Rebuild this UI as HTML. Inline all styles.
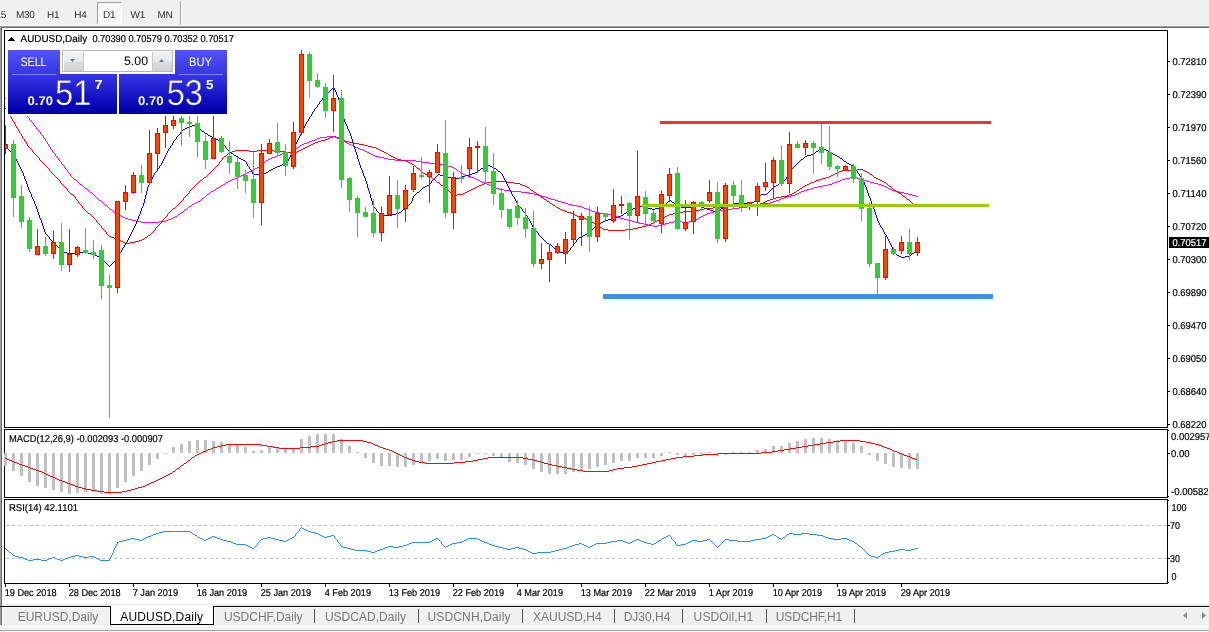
<!DOCTYPE html>
<html lang="en"><head><meta charset="utf-8"><title>AUDUSD,Daily</title>
<style>
html,body{margin:0;padding:0;}
body{width:1209px;height:632px;overflow:hidden;background:#f0f0f0;font-family:"Liberation Sans", sans-serif;position:relative;}
.abs{position:absolute;}
#toolbar{left:0;top:0;width:1209px;height:26px;background:#f0f0f0;}
.tf{position:absolute;top:10px;font-size:10px;line-height:11px;color:#2b2b2b;white-space:nowrap;text-rendering:geometricPrecision;letter-spacing:-0.3px;}
#d1{left:97px;top:2px;width:23px;height:20px;background:#f8f8f8;border:1px solid #a0a0a0;border-right-color:#fff;border-bottom-color:#fff;}
#tabs{left:0;top:604px;width:1209px;height:28px;background:#f0f0f0;}
.tab{position:absolute;top:6px;font-size:12px;line-height:14px;color:#787878;white-space:nowrap;}
.tab.on{color:#000;}
.sep{position:absolute;top:5px;width:1px;height:14px;background:#5a5a5a;}
#oc{left:6px;top:50px;width:223px;height:66px;background:#fff;}
#oc svg{left:2px;}
.btn{position:absolute;color:#fff;font-size:12px;line-height:14px;white-space:nowrap;}
svg{position:absolute;left:0;top:0;}
svg text{font-family:"Liberation Sans", sans-serif;text-rendering:geometricPrecision;}

</style></head><body>
<div id="toolbar" class="abs">
<div id="d1" class="abs"></div>
<span class="tf" style="left:-12.5px">M15</span>
<span class="tf" style="left:16px">M30</span>
<span class="tf" style="left:47px">H1</span>
<span class="tf" style="left:74.3px">H4</span>
<span class="tf" style="left:103px">D1</span>
<span class="tf" style="left:130.5px">W1</span>
<span class="tf" style="left:157.5px">MN</span>
<div class="abs" style="left:180px;top:1px;width:1px;height:24px;background:#a0a0a0"></div>
<div class="abs" style="left:181px;top:1px;width:1px;height:24px;background:#fff"></div>
</div>
<div class="abs" style="left:0;top:25px;width:1209px;height:1px;background:#fcfcfc"></div>
<div class="abs" style="left:0;top:26px;width:1209px;height:1px;background:#a0a0a0"></div>
<div class="abs" style="left:0;top:27px;width:1209px;height:1px;background:#696969"></div>
<div class="abs" style="left:2px;top:28px;width:1207px;height:576px;background:#fff"></div>
<div class="abs" style="left:0;top:27px;width:1px;height:598px;background:#a0a0a0"></div>
<div class="abs" style="left:1px;top:27px;width:1px;height:598px;background:#696969"></div>
<div id="tabs" class="abs">
<div class="abs" style="left:111px;top:0;width:102px;height:20px;background:#fff"></div>
<div class="abs" style="left:0;top:0;width:1px;height:21px;background:#a0a0a0"></div>
<div class="abs" style="left:1px;top:0;width:1px;height:21px;background:#696969"></div>
<div class="abs" style="left:2px;top:0;width:1px;height:21px;background:#fff"></div>
<div class="abs" style="left:214px;top:3px;width:1px;height:18px;background:#fff"></div>
<div class="abs" style="left:109px;top:3px;width:1px;height:18px;background:#fafafa"></div>
<div class="abs" style="left:0;top:2px;width:111px;height:1px;background:#000"></div>
<div class="abs" style="left:110px;top:2px;width:1px;height:19px;background:#000"></div>
<div class="abs" style="left:110px;top:20px;width:104px;height:1px;background:#000"></div>
<div class="abs" style="left:213px;top:2px;width:1px;height:19px;background:#000"></div>
<div class="abs" style="left:213px;top:2px;width:996px;height:1px;background:#000"></div>
<div class="abs" style="left:2px;top:0;width:1207px;height:1px;background:#e8e8e8"></div>
<div class="abs" style="left:0;top:22px;width:1209px;height:1px;background:#fff"></div>
<div class="abs" style="left:0;top:25px;width:1209px;height:1px;background:#f6f6f6"></div>
<div class="abs" style="left:0;top:27px;width:1209px;height:1px;background:#f6f6f6"></div>
<div class="abs" style="left:3px;top:3px;width:106px;height:1px;background:#fbfbfb"></div>
<div class="abs" style="left:215px;top:3px;width:994px;height:1px;background:#fbfbfb"></div>
<div class="abs" style="left:0;top:26px;width:1209px;height:1px;background:#a0a0a0"></div>
<span class="tab" style="left:17.7px;letter-spacing:0px">EURUSD,Daily</span>
<span class="tab on" style="left:120.2px;letter-spacing:0.2px">AUDUSD,Daily</span>
<span class="tab" style="left:223.9px;letter-spacing:0px">USDCHF,Daily</span>
<span class="tab" style="left:324.9px;letter-spacing:0.03px">USDCAD,Daily</span>
<span class="tab" style="left:427.5px;letter-spacing:0.15px">USDCNH,Daily</span>
<span class="tab" style="left:533px;letter-spacing:0px">XAUUSD,H4</span>
<span class="tab" style="left:623.7px;letter-spacing:0px">DJ30,H4</span>
<span class="tab" style="left:693.6px;letter-spacing:0.12px">USDOil,H1</span>
<span class="tab" style="left:775.7px;letter-spacing:-0.1px">USDCHF,H1</span>
<div class="sep" style="left:314px"></div>
<div class="sep" style="left:418px"></div>
<div class="sep" style="left:522px"></div>
<div class="sep" style="left:614px"></div>
<div class="sep" style="left:682px"></div>
<div class="sep" style="left:766px"></div>
<div class="sep" style="left:854px"></div>
<svg width="1209" height="28" viewBox="0 0 1209 28"><polygon points="1187,8 1187,15 1183,11.5" fill="#8c8c8c"/><polygon points="1202,8 1202,15 1206,11.5" fill="#8c8c8c"/></svg>
</div>
<svg width="1209" height="632" viewBox="0 0 1209 632">
<g shape-rendering="crispEdges">
<rect x="4" y="30" width="1164" height="1" fill="#000"/>
<rect x="4" y="427" width="1164" height="1" fill="#000"/>
<rect x="4" y="30" width="1" height="398" fill="#000"/>
<rect x="1167" y="30" width="1" height="398" fill="#000"/>
<rect x="4" y="429" width="1164" height="1" fill="#000"/>
<rect x="4" y="497" width="1164" height="1" fill="#000"/>
<rect x="4" y="429" width="1" height="69" fill="#000"/>
<rect x="1167" y="429" width="1" height="69" fill="#000"/>
<rect x="4" y="499" width="1164" height="1" fill="#000"/>
<rect x="4" y="583" width="1164" height="1" fill="#000"/>
<rect x="4" y="499" width="1" height="85" fill="#000"/>
<rect x="1167" y="499" width="1" height="85" fill="#000"/>
<clipPath id="cm"><rect x="5" y="31" width="1162" height="396"/></clipPath>
<path clip-path="url(#cm)" transform="translate(0.5,0)" fill="none" stroke="#FF00FF" stroke-width="1" d="M29,118v2M33,123v2M36,127v2M40,132v2M43,136v2M45,139v2M47,142v2M48,144v2M50,147v2M52,150v2M55,154v2M58,158v2M61,162v2M64,166v2M67,170v2M70,174v2"/>
<path clip-path="url(#cm)" transform="translate(0,0.5)" fill="none" stroke="#FF00FF" stroke-width="1" d="M5,98h1M6,99h1M7,100h2M9,101h1M10,102h1M11,103h1M12,104h1M13,105h2M15,106h1M16,107h1M17,108h1M18,109h2M20,110h1M21,111h1M22,112h1M23,113h1M24,114h2M26,115h1M27,116h1M28,117h1M30,120h1M31,121h1M32,122h1M34,125h1M35,126h1M37,129h1M38,130h1M39,131h1M41,134h1M42,135h1M327,136h8M320,137h7M335,137h2M44,138h1M317,138h3M337,138h2M315,139h2M339,139h2M312,140h3M341,140h2M46,141h1M309,141h3M343,141h2M307,142h2M345,142h2M304,143h3M347,143h2M302,144h2M349,144h2M300,145h2M351,145h2M49,146h1M299,146h1M353,146h2M297,147h2M355,147h3M296,148h1M358,148h2M51,149h1M295,149h1M360,149h3M293,150h2M363,150h2M292,151h1M365,151h2M53,152h1M287,152h5M367,152h2M54,153h1M282,153h5M369,153h2M280,154h2M371,154h2M277,155h3M373,155h2M56,156h1M275,156h2M375,156h4M57,157h1M272,157h3M379,157h5M270,158h2M384,158h4M268,159h2M388,159h7M59,160h1M266,160h2M395,160h21M60,161h1M265,161h1M416,161h5M264,162h1M421,162h8M263,163h1M429,163h10M62,164h1M261,164h2M439,164h5M63,165h1M260,165h1M444,165h4M259,166h1M448,166h4M257,167h2M452,167h2M65,168h1M255,168h2M454,168h2M66,169h1M253,169h2M456,169h1M251,170h2M457,170h1M249,171h2M458,171h2M68,172h1M247,172h2M460,172h1M69,173h1M245,173h2M461,173h2M243,174h2M463,174h2M241,175h2M465,175h3M71,176h1M239,176h2M468,176h3M72,177h1M237,177h2M471,177h3M850,177h7M73,178h1M234,178h3M474,178h2M845,178h5M857,178h5M74,179h2M232,179h2M476,179h2M842,179h3M862,179h2M76,180h1M230,180h2M478,180h2M840,180h2M864,180h3M77,181h1M228,181h2M480,181h2M837,181h3M867,181h3M78,182h1M226,182h2M482,182h3M834,182h3M870,182h4M79,183h1M225,183h1M485,183h2M832,183h2M874,183h4M80,184h2M223,184h2M487,184h2M828,184h4M878,184h3M82,185h1M221,185h2M489,185h2M823,185h5M881,185h3M83,186h1M220,186h1M491,186h2M818,186h5M884,186h2M84,187h1M218,187h2M493,187h2M814,187h4M886,187h2M85,188h2M216,188h2M495,188h4M811,188h3M888,188h2M87,189h1M215,189h1M499,189h5M807,189h4M890,189h2M88,190h1M213,190h2M504,190h7M804,190h3M892,190h3M89,191h1M211,191h2M511,191h10M801,191h3M895,191h4M90,192h2M210,192h1M521,192h8M799,192h2M899,192h5M92,193h1M209,193h1M529,193h5M797,193h2M904,193h4M93,194h1M207,194h2M534,194h4M795,194h2M908,194h4M94,195h1M206,195h1M538,195h3M791,195h4M912,195h4M95,196h1M205,196h1M541,196h4M787,196h4M916,196h2M96,197h1M204,197h1M545,197h3M784,197h3M97,198h1M202,198h2M548,198h3M781,198h3M98,199h1M201,199h1M551,199h4M779,199h2M99,200h2M200,200h1M555,200h3M776,200h3M101,201h1M198,201h2M558,201h3M773,201h3M102,202h1M196,202h2M561,202h4M770,202h3M103,203h1M194,203h2M565,203h3M760,203h10M104,204h1M192,204h2M568,204h4M756,204h4M105,205h2M191,205h1M572,205h5M753,205h3M107,206h1M189,206h2M577,206h5M747,206h6M108,207h1M188,207h1M582,207h2M739,207h8M109,208h1M187,208h1M584,208h3M732,208h7M110,209h2M185,209h2M587,209h2M727,209h5M112,210h1M184,210h1M589,210h3M720,210h7M113,211h1M183,211h1M592,211h3M714,211h6M114,212h2M181,212h2M595,212h4M710,212h4M116,213h2M180,213h1M599,213h6M707,213h3M118,214h1M178,214h2M605,214h7M705,214h2M119,215h2M177,215h1M612,215h2M703,215h2M121,216h2M175,216h2M614,216h3M701,216h2M123,217h2M173,217h2M617,217h3M699,217h2M125,218h3M171,218h2M620,218h4M698,218h1M128,219h4M168,219h3M624,219h4M696,219h2M132,220h4M166,220h2M628,220h4M693,220h3M136,221h5M159,221h7M632,221h3M674,221h8M689,221h4M141,222h18M635,222h4M669,222h5M682,222h7M639,223h5M665,223h4M644,224h4M662,224h3M648,225h5M658,225h4M653,226h5"/>
<path clip-path="url(#cm)" transform="translate(0.5,0)" fill="none" stroke="#FF0000" stroke-width="1" d="M6,109v2M8,112v2M9,114v2M11,117v2M12,119v2M14,122v2M15,124v2M16,126v2M18,129v2M19,131v2M21,134v2M22,136v2M24,139v2M26,142v2M27,144v2M32,150v2M39,158v2M49,169v2M60,181v2M67,189v2M75,197v2M78,201v2M82,206v2M96,220v2M101,226v2M106,232v2M155,228v2M162,220v2M167,214v2M183,198v2M189,191v2M219,162v2M222,158v2"/>
<path clip-path="url(#cm)" transform="translate(0,0.5)" fill="none" stroke="#FF0000" stroke-width="1" d="M5,108h1M7,111h1M10,116h1M13,121h1M17,128h1M20,133h1M333,136h3M330,137h3M336,137h3M23,138h1M328,138h2M339,138h2M325,139h3M341,139h2M321,140h4M343,140h2M25,141h1M318,141h3M345,141h4M315,142h3M349,142h5M313,143h2M354,143h5M311,144h2M359,144h5M309,145h2M364,145h4M28,146h1M307,146h2M368,146h4M29,147h1M305,147h2M372,147h4M30,148h1M303,148h2M376,148h2M31,149h1M301,149h2M378,149h2M235,150h14M257,150h17M299,150h2M380,150h2M232,151h3M249,151h8M274,151h11M297,151h2M382,151h2M33,152h1M230,152h2M285,152h12M384,152h2M34,153h1M228,153h2M386,153h2M35,154h1M227,154h1M388,154h1M36,155h1M226,155h1M389,155h2M37,156h1M224,156h2M391,156h2M38,157h1M223,157h1M393,157h2M395,158h2M397,159h4M40,160h1M221,160h1M401,160h5M41,161h1M220,161h1M406,161h2M42,162h1M408,162h2M43,163h1M410,163h2M44,164h1M218,164h1M412,164h2M45,165h1M217,165h1M414,165h1M46,166h1M216,166h1M415,166h1M47,167h1M215,167h1M416,167h1M48,168h1M214,168h1M417,168h2M213,169h1M419,169h1M857,169h6M212,170h1M420,170h1M842,170h15M863,170h2M50,171h1M211,171h1M421,171h1M839,171h3M865,171h2M51,172h1M210,172h1M422,172h1M837,172h2M867,172h2M52,173h1M209,173h1M423,173h2M835,173h2M869,173h1M53,174h1M208,174h1M425,174h2M833,174h2M870,174h2M54,175h1M207,175h1M427,175h2M831,175h2M872,175h1M55,176h1M206,176h1M429,176h2M829,176h2M873,176h1M56,177h1M204,177h2M431,177h1M826,177h3M874,177h2M57,178h1M203,178h1M432,178h1M822,178h4M876,178h2M58,179h1M202,179h1M433,179h2M819,179h3M878,179h2M59,180h1M200,180h2M435,180h1M816,180h3M880,180h2M199,181h1M436,181h1M492,181h15M814,181h2M882,181h2M198,182h1M437,182h2M487,182h5M507,182h7M811,182h3M884,182h2M61,183h1M197,183h1M439,183h1M484,183h3M514,183h6M809,183h2M886,183h1M62,184h1M196,184h1M440,184h1M482,184h2M520,184h2M807,184h2M887,184h1M63,185h1M195,185h1M441,185h2M479,185h3M522,185h3M805,185h2M888,185h1M64,186h1M194,186h1M443,186h1M477,186h2M525,186h2M803,186h2M889,186h2M65,187h1M193,187h1M444,187h1M475,187h2M527,187h2M802,187h1M891,187h1M66,188h1M192,188h1M445,188h1M473,188h2M529,188h1M800,188h2M892,188h1M191,189h1M446,189h2M471,189h2M530,189h1M799,189h1M893,189h1M190,190h1M448,190h1M469,190h2M531,190h2M797,190h2M894,190h2M68,191h1M449,191h1M467,191h2M533,191h1M796,191h1M896,191h1M69,192h1M450,192h1M465,192h2M534,192h2M794,192h2M897,192h2M70,193h1M188,193h1M451,193h1M463,193h2M536,193h1M792,193h2M899,193h2M71,194h2M187,194h1M452,194h1M457,194h6M537,194h2M789,194h3M901,194h1M73,195h1M186,195h1M453,195h4M539,195h1M787,195h2M902,195h1M74,196h1M185,196h1M540,196h1M781,196h6M903,196h2M184,197h1M541,197h2M776,197h5M905,197h1M543,198h1M773,198h3M906,198h1M76,199h1M544,199h2M770,199h3M907,199h2M77,200h1M182,200h1M546,200h1M767,200h3M909,200h1M181,201h1M547,201h2M765,201h2M910,201h1M180,202h1M549,202h1M763,202h2M911,202h1M79,203h1M179,203h1M550,203h2M760,203h3M912,203h1M80,204h1M178,204h1M552,204h1M757,204h3M913,204h1M81,205h1M177,205h1M553,205h2M755,205h2M914,205h1M176,206h1M555,206h1M725,206h30M175,207h1M556,207h2M713,207h12M83,208h1M173,208h2M558,208h2M704,208h9M84,209h1M172,209h1M560,209h2M700,209h4M85,210h1M171,210h1M562,210h3M694,210h6M86,211h1M170,211h1M565,211h2M683,211h11M87,212h1M169,212h1M567,212h4M679,212h4M88,213h2M168,213h1M571,213h2M673,213h6M90,214h1M573,214h2M669,214h4M91,215h1M575,215h2M667,215h2M92,216h1M166,216h1M577,216h3M665,216h2M93,217h1M165,217h1M580,217h3M663,217h2M94,218h1M164,218h1M583,218h3M661,218h2M95,219h1M163,219h1M586,219h2M659,219h2M588,220h2M657,220h2M590,221h2M655,221h2M97,222h1M161,222h1M592,222h2M653,222h2M98,223h1M160,223h1M594,223h2M651,223h2M99,224h1M159,224h1M596,224h2M649,224h2M100,225h1M158,225h1M598,225h1M646,225h3M157,226h1M599,226h1M642,226h4M156,227h1M600,227h2M638,227h4M102,228h1M602,228h1M633,228h5M103,229h1M603,229h5M625,229h8M104,230h1M154,230h1M608,230h17M105,231h1M153,231h1M152,232h1M151,233h1M107,234h1M150,234h1M108,235h1M148,235h2M109,236h2M147,236h1M111,237h3M145,237h2M114,238h3M144,238h1M117,239h2M142,239h2M119,240h2M139,240h3M121,241h2M135,241h4M123,242h2M130,242h5M125,243h5"/>
<path clip-path="url(#cm)" transform="translate(0.5,0)" fill="none" stroke="#0000EE" stroke-width="1" d="M12,153v2M14,156v2M16,159v2M17,161v2M18,163v2M19,165v2M20,167v2M21,169v2M22,171v2M23,173v3M24,176v3M25,179v2M26,181v3M27,184v3M28,187v3M29,190v2M30,192v2M31,194v3M32,197v2M33,199v2M34,201v3M35,204v2M36,206v3M37,209v3M38,212v3M39,215v3M40,218v2M41,220v3M42,223v3M43,226v3M44,229v3M45,232v2M49,237v2M116,258v2M118,255v2M119,253v2M121,250v2M122,248v2M124,245v2M125,243v2M127,240v2M128,238v2M129,236v2M130,234v2M131,232v2M132,230v2M133,228v2M134,226v2M135,224v2M136,221v3M137,219v2M138,216v3M139,214v2M140,211v3M141,208v3M142,206v2M143,203v3M144,199v4M145,195v4M146,191v4M147,187v4M148,185v2M149,183v2M150,181v2M151,179v2M152,177v2M153,175v2M154,173v2M157,169v2M159,166v2M161,163v2M162,161v2M163,159v2M164,157v2M165,155v2M166,153v2M167,151v2M168,149v2M170,146v2M172,143v2M173,141v2M176,137v2M180,132v2M225,146v2M246,162v2M247,164v2M249,167v2M251,170v2M252,172v2M288,159v2M289,157v2M290,155v2M291,152v3M292,150v2M293,148v2M294,146v2M295,144v2M296,142v2M297,140v2M298,138v2M299,136v2M300,134v2M301,132v2M302,130v2M303,128v2M304,126v2M305,124v2M306,122v2M308,119v2M309,117v2M311,114v2M312,112v2M314,109v2M317,105v2M319,102v2M322,98v2M334,88v2M335,90v2M336,92v3M337,95v2M338,97v3M339,100v4M340,104v4M341,108v3M342,111v4M343,115v4M344,119v3M345,122v2M346,124v2M347,126v3M348,129v2M349,131v2M350,133v3M351,136v3M352,139v4M353,143v3M354,146v3M355,149v3M356,152v3M357,155v4M358,159v3M359,162v3M360,165v3M361,168v2M362,170v3M363,173v3M364,176v2M365,178v3M366,181v3M367,184v4M368,188v3M369,191v3M370,194v4M371,198v3M372,201v4M373,205v2M376,209v2M411,201v2M412,198v3M413,196v2M431,181v2M502,174v2M503,176v2M504,178v2M505,180v2M506,182v2M507,184v2M508,186v2M509,188v2M510,190v2M511,192v2M512,194v2M514,197v2M515,199v2M516,201v2M517,203v2M518,205v2M522,209v2M525,213v2M527,216v2M529,219v2M530,221v2M531,223v2M532,225v2M535,229v2M538,233v2M570,248v2M573,244v2M576,240v2M755,199v2M786,177v2M788,174v2M789,172v2M791,169v2M854,167v2M857,171v2M859,174v2M862,178v2M863,180v2M864,182v3M865,185v2M866,187v3M867,190v3M868,193v3M869,196v2M870,198v3M871,201v3M872,204v2M873,206v3M874,209v3M875,212v3M876,215v3M877,218v3M878,221v2M879,223v2M880,225v2M882,228v2M883,230v2M884,232v2M886,235v2M887,237v2M888,239v2M889,241v2M890,243v2M891,245v2M892,247v2M894,250v2M895,252v2"/>
<path clip-path="url(#cm)" transform="translate(0,0.5)" fill="none" stroke="#0000EE" stroke-width="1" d="M333,87h1M332,88h1M331,89h1M330,90h1M329,91h1M328,92h1M327,93h1M326,94h1M325,95h1M324,96h1M323,97h1M321,100h1M320,101h1M318,104h1M316,107h1M315,108h1M313,111h1M310,116h1M307,121h1M192,125h3M189,126h3M195,126h2M187,127h2M197,127h1M185,128h2M198,128h1M183,129h2M199,129h2M182,130h1M201,130h1M181,131h1M202,131h2M204,132h1M205,133h2M179,134h1M207,134h1M178,135h1M208,135h2M177,136h1M210,136h2M212,137h2M214,138h2M175,139h1M216,139h2M174,140h1M218,140h2M220,141h1M221,142h1M222,143h1M223,144h1M171,145h1M224,145h1M6,147h1M7,148h1M169,148h1M226,148h1M822,148h2M8,149h1M227,149h1M820,149h2M824,149h2M9,150h1M228,150h1M818,150h2M826,150h2M10,151h1M229,151h1M816,151h2M828,151h2M11,152h1M230,152h1M815,152h1M830,152h1M231,153h2M813,153h2M831,153h2M233,154h1M811,154h2M833,154h2M13,155h1M234,155h2M807,155h4M835,155h2M236,156h2M805,156h2M837,156h2M238,157h1M804,157h1M839,157h1M15,158h1M239,158h2M803,158h1M840,158h2M241,159h2M801,159h2M842,159h1M243,160h2M800,160h1M843,160h1M245,161h1M287,161h1M799,161h1M844,161h2M285,162h2M798,162h1M846,162h1M284,163h1M797,163h1M847,163h2M282,164h2M796,164h1M849,164h2M160,165h1M280,165h2M487,165h3M795,165h1M851,165h2M248,166h1M277,166h3M485,166h2M490,166h2M794,166h1M853,166h1M275,167h2M483,167h2M492,167h2M793,167h1M158,168h1M273,168h2M481,168h2M494,168h2M792,168h1M250,169h1M271,169h2M480,169h1M496,169h1M855,169h1M269,170h2M478,170h2M497,170h1M856,170h1M156,171h1M268,171h1M477,171h1M498,171h2M790,171h1M155,172h1M266,172h2M475,172h2M500,172h1M262,173h4M472,173h3M501,173h1M858,173h1M253,174h9M438,174h2M469,174h3M437,175h1M440,175h4M465,175h4M436,176h1M444,176h4M462,176h3M787,176h1M860,176h1M435,177h1M448,177h6M460,177h2M861,177h1M434,178h1M454,178h6M433,179h1M785,179h1M432,180h1M783,180h2M782,181h1M781,182h1M430,183h1M779,183h2M429,184h1M778,184h1M427,185h2M776,185h2M425,186h2M774,186h2M423,187h2M773,187h1M422,188h1M772,188h1M421,189h1M771,189h1M420,190h1M770,190h1M419,191h1M769,191h1M417,192h2M768,192h1M416,193h1M767,193h1M415,194h1M761,194h6M414,195h1M760,195h1M513,196h1M758,196h2M757,197h1M756,198h1M670,200h1M668,201h2M671,201h1M754,201h1M667,202h1M672,202h2M750,202h4M410,203h1M666,203h1M674,203h1M734,203h16M409,204h1M664,204h2M675,204h2M729,204h5M408,205h1M663,205h1M677,205h2M727,205h2M407,206h1M639,206h5M661,206h2M679,206h2M693,206h9M725,206h2M374,207h1M406,207h1M519,207h2M635,207h4M644,207h4M659,207h2M681,207h12M702,207h2M723,207h2M375,208h1M405,208h1M521,208h1M633,208h2M648,208h4M655,208h4M704,208h3M721,208h2M403,209h2M631,209h2M652,209h3M707,209h3M719,209h2M402,210h1M629,210h2M710,210h3M716,210h3M377,211h1M401,211h1M523,211h1M627,211h2M713,211h3M378,212h1M399,212h2M524,212h1M626,212h1M379,213h1M396,213h3M624,213h2M380,214h2M392,214h4M623,214h1M382,215h10M526,215h1M621,215h2M618,216h3M614,217h4M528,218h1M611,218h3M608,219h3M605,220h3M603,221h2M601,222h2M599,223h2M598,224h1M596,225h2M595,226h1M533,227h1M594,227h1M881,227h1M534,228h1M593,228h1M591,229h2M590,230h1M536,231h1M589,231h1M537,232h1M588,232h1M587,233h1M46,234h1M585,234h2M885,234h1M47,235h1M539,235h1M583,235h2M48,236h1M540,236h1M581,236h2M541,237h1M579,237h2M542,238h1M578,238h1M50,239h1M543,239h1M577,239h1M51,240h1M544,240h1M52,241h1M545,241h1M53,242h1M126,242h1M546,242h1M575,242h1M54,243h1M547,243h2M574,243h1M55,244h1M549,244h2M56,245h1M551,245h1M57,246h1M552,246h1M572,246h1M58,247h1M123,247h1M553,247h1M571,247h1M59,248h1M554,248h1M60,249h1M555,249h1M893,249h1M61,250h1M556,250h2M569,250h1M917,250h1M62,251h1M558,251h2M565,251h4M915,251h2M63,252h4M78,252h10M120,252h1M560,252h5M914,252h1M67,253h11M88,253h4M912,253h2M92,254h3M896,254h1M911,254h1M95,255h2M897,255h2M909,255h2M97,256h2M899,256h2M905,256h4M99,257h2M117,257h1M901,257h4M101,258h1M102,259h1M103,260h1M115,260h1M104,261h1M114,261h1M105,262h1M113,262h1M106,263h1M112,263h1M107,264h1M111,264h1M108,265h1M110,265h1M109,266h1"/>
<g clip-path="url(#cm)">
<rect x="5" y="125" width="1" height="29" fill="#FF0000"/>
<rect x="3" y="144" width="5" height="5" fill="#FF0000"/>
<rect x="4" y="145" width="3" height="3" fill="#FF4500"/>
<rect x="13" y="140" width="1" height="77" fill="#32CD32"/>
<rect x="11" y="144" width="5" height="54" fill="#32CD32"/>
<rect x="21" y="185" width="1" height="43" fill="#32CD32"/>
<rect x="19" y="196" width="5" height="26" fill="#32CD32"/>
<rect x="29" y="217" width="1" height="35" fill="#32CD32"/>
<rect x="27" y="220" width="5" height="29" fill="#32CD32"/>
<rect x="37" y="229" width="1" height="26" fill="#FF0000"/>
<rect x="35" y="246" width="5" height="9" fill="#FF0000"/>
<rect x="36" y="247" width="3" height="7" fill="#FF4500"/>
<rect x="45" y="237" width="1" height="19" fill="#32CD32"/>
<rect x="43" y="246" width="5" height="8" fill="#32CD32"/>
<rect x="53" y="231" width="1" height="28" fill="#FF0000"/>
<rect x="51" y="242" width="5" height="12" fill="#FF0000"/>
<rect x="52" y="243" width="3" height="10" fill="#FF4500"/>
<rect x="61" y="223" width="1" height="48" fill="#32CD32"/>
<rect x="59" y="242" width="5" height="23" fill="#32CD32"/>
<rect x="69" y="229" width="1" height="43" fill="#FF0000"/>
<rect x="67" y="254" width="5" height="11" fill="#FF0000"/>
<rect x="68" y="255" width="3" height="9" fill="#FF4500"/>
<rect x="77" y="246" width="1" height="11" fill="#FF0000"/>
<rect x="75" y="247" width="5" height="8" fill="#FF0000"/>
<rect x="76" y="248" width="3" height="6" fill="#FF4500"/>
<rect x="85" y="228" width="1" height="26" fill="#32CD32"/>
<rect x="83" y="250" width="5" height="3" fill="#32CD32"/>
<rect x="93" y="240" width="1" height="19" fill="#32CD32"/>
<rect x="91" y="252" width="5" height="3" fill="#32CD32"/>
<rect x="101" y="245" width="1" height="54" fill="#32CD32"/>
<rect x="99" y="250" width="5" height="36" fill="#32CD32"/>
<rect x="109" y="275" width="1" height="143" fill="#32CD32"/>
<rect x="107" y="285" width="5" height="3" fill="#32CD32"/>
<rect x="117" y="201" width="1" height="92" fill="#FF0000"/>
<rect x="115" y="201" width="5" height="87" fill="#FF0000"/>
<rect x="116" y="202" width="3" height="85" fill="#FF4500"/>
<rect x="125" y="185" width="1" height="25" fill="#FF0000"/>
<rect x="123" y="192" width="5" height="10" fill="#FF0000"/>
<rect x="124" y="193" width="3" height="8" fill="#FF4500"/>
<rect x="133" y="172" width="1" height="22" fill="#FF0000"/>
<rect x="131" y="175" width="5" height="18" fill="#FF0000"/>
<rect x="132" y="176" width="3" height="16" fill="#FF4500"/>
<rect x="141" y="165" width="1" height="28" fill="#32CD32"/>
<rect x="139" y="175" width="5" height="8" fill="#32CD32"/>
<rect x="149" y="130" width="1" height="55" fill="#FF0000"/>
<rect x="147" y="153" width="5" height="30" fill="#FF0000"/>
<rect x="148" y="154" width="3" height="28" fill="#FF4500"/>
<rect x="157" y="128" width="1" height="41" fill="#FF0000"/>
<rect x="155" y="133" width="5" height="21" fill="#FF0000"/>
<rect x="156" y="134" width="3" height="19" fill="#FF4500"/>
<rect x="165" y="116" width="1" height="32" fill="#FF0000"/>
<rect x="163" y="125" width="5" height="8" fill="#FF0000"/>
<rect x="164" y="126" width="3" height="6" fill="#FF4500"/>
<rect x="173" y="116" width="1" height="13" fill="#FF0000"/>
<rect x="171" y="120" width="5" height="6" fill="#FF0000"/>
<rect x="172" y="121" width="3" height="4" fill="#FF4500"/>
<rect x="181" y="116" width="1" height="30" fill="#32CD32"/>
<rect x="179" y="118" width="5" height="5" fill="#32CD32"/>
<rect x="189" y="116" width="1" height="21" fill="#32CD32"/>
<rect x="187" y="122" width="5" height="2" fill="#32CD32"/>
<rect x="197" y="116" width="1" height="41" fill="#32CD32"/>
<rect x="195" y="123" width="5" height="19" fill="#32CD32"/>
<rect x="205" y="135" width="1" height="34" fill="#32CD32"/>
<rect x="203" y="141" width="5" height="19" fill="#32CD32"/>
<rect x="213" y="116" width="1" height="43" fill="#FF0000"/>
<rect x="211" y="138" width="5" height="21" fill="#FF0000"/>
<rect x="212" y="139" width="3" height="19" fill="#FF4500"/>
<rect x="221" y="136" width="1" height="17" fill="#32CD32"/>
<rect x="219" y="138" width="5" height="14" fill="#32CD32"/>
<rect x="229" y="141" width="1" height="33" fill="#32CD32"/>
<rect x="227" y="156" width="5" height="7" fill="#32CD32"/>
<rect x="237" y="157" width="1" height="32" fill="#32CD32"/>
<rect x="235" y="162" width="5" height="15" fill="#32CD32"/>
<rect x="245" y="170" width="1" height="23" fill="#32CD32"/>
<rect x="243" y="175" width="5" height="6" fill="#32CD32"/>
<rect x="253" y="152" width="1" height="66" fill="#32CD32"/>
<rect x="251" y="179" width="5" height="24" fill="#32CD32"/>
<rect x="261" y="144" width="1" height="81" fill="#FF0000"/>
<rect x="259" y="153" width="5" height="50" fill="#FF0000"/>
<rect x="260" y="154" width="3" height="48" fill="#FF4500"/>
<rect x="269" y="139" width="1" height="15" fill="#FF0000"/>
<rect x="267" y="143" width="5" height="11" fill="#FF0000"/>
<rect x="268" y="144" width="3" height="9" fill="#FF4500"/>
<rect x="277" y="123" width="1" height="33" fill="#32CD32"/>
<rect x="275" y="142" width="5" height="11" fill="#32CD32"/>
<rect x="285" y="144" width="1" height="32" fill="#32CD32"/>
<rect x="283" y="152" width="5" height="14" fill="#32CD32"/>
<rect x="293" y="122" width="1" height="47" fill="#FF0000"/>
<rect x="291" y="132" width="5" height="35" fill="#FF0000"/>
<rect x="292" y="133" width="3" height="33" fill="#FF4500"/>
<rect x="301" y="50" width="1" height="85" fill="#FF0000"/>
<rect x="299" y="54" width="5" height="79" fill="#FF0000"/>
<rect x="300" y="55" width="3" height="77" fill="#FF4500"/>
<rect x="309" y="52" width="1" height="46" fill="#32CD32"/>
<rect x="307" y="54" width="5" height="27" fill="#32CD32"/>
<rect x="317" y="73" width="1" height="15" fill="#32CD32"/>
<rect x="315" y="80" width="5" height="7" fill="#32CD32"/>
<rect x="325" y="83" width="1" height="35" fill="#32CD32"/>
<rect x="323" y="87" width="5" height="24" fill="#32CD32"/>
<rect x="333" y="75" width="1" height="57" fill="#FF0000"/>
<rect x="331" y="98" width="5" height="13" fill="#FF0000"/>
<rect x="332" y="99" width="3" height="11" fill="#FF4500"/>
<rect x="341" y="90" width="1" height="98" fill="#32CD32"/>
<rect x="339" y="98" width="5" height="82" fill="#32CD32"/>
<rect x="349" y="177" width="1" height="35" fill="#32CD32"/>
<rect x="347" y="178" width="5" height="22" fill="#32CD32"/>
<rect x="357" y="196" width="1" height="41" fill="#32CD32"/>
<rect x="355" y="198" width="5" height="15" fill="#32CD32"/>
<rect x="365" y="207" width="1" height="10" fill="#32CD32"/>
<rect x="363" y="212" width="5" height="5" fill="#32CD32"/>
<rect x="373" y="199" width="1" height="38" fill="#32CD32"/>
<rect x="371" y="213" width="5" height="20" fill="#32CD32"/>
<rect x="381" y="207" width="1" height="34" fill="#FF0000"/>
<rect x="379" y="213" width="5" height="20" fill="#FF0000"/>
<rect x="380" y="214" width="3" height="18" fill="#FF4500"/>
<rect x="389" y="176" width="1" height="40" fill="#FF0000"/>
<rect x="387" y="195" width="5" height="20" fill="#FF0000"/>
<rect x="388" y="196" width="3" height="18" fill="#FF4500"/>
<rect x="397" y="180" width="1" height="48" fill="#32CD32"/>
<rect x="395" y="195" width="5" height="14" fill="#32CD32"/>
<rect x="405" y="185" width="1" height="37" fill="#FF0000"/>
<rect x="403" y="190" width="5" height="19" fill="#FF0000"/>
<rect x="404" y="191" width="3" height="17" fill="#FF4500"/>
<rect x="413" y="166" width="1" height="26" fill="#FF0000"/>
<rect x="411" y="173" width="5" height="17" fill="#FF0000"/>
<rect x="412" y="174" width="3" height="15" fill="#FF4500"/>
<rect x="421" y="157" width="1" height="22" fill="#32CD32"/>
<rect x="419" y="175" width="5" height="2" fill="#32CD32"/>
<rect x="429" y="170" width="1" height="33" fill="#FF0000"/>
<rect x="427" y="172" width="5" height="5" fill="#FF0000"/>
<rect x="428" y="173" width="3" height="3" fill="#FF4500"/>
<rect x="437" y="144" width="1" height="29" fill="#FF0000"/>
<rect x="435" y="152" width="5" height="21" fill="#FF0000"/>
<rect x="436" y="153" width="3" height="19" fill="#FF4500"/>
<rect x="445" y="120" width="1" height="98" fill="#32CD32"/>
<rect x="443" y="153" width="5" height="60" fill="#32CD32"/>
<rect x="453" y="172" width="1" height="57" fill="#FF0000"/>
<rect x="451" y="177" width="5" height="36" fill="#FF0000"/>
<rect x="452" y="178" width="3" height="34" fill="#FF4500"/>
<rect x="461" y="165" width="1" height="18" fill="#32CD32"/>
<rect x="459" y="177" width="5" height="2" fill="#32CD32"/>
<rect x="469" y="138" width="1" height="40" fill="#FF0000"/>
<rect x="467" y="147" width="5" height="22" fill="#FF0000"/>
<rect x="468" y="148" width="3" height="20" fill="#FF4500"/>
<rect x="477" y="141" width="1" height="32" fill="#FF0000"/>
<rect x="475" y="146" width="5" height="2" fill="#FF0000"/>
<rect x="485" y="127" width="1" height="57" fill="#32CD32"/>
<rect x="483" y="146" width="5" height="26" fill="#32CD32"/>
<rect x="493" y="153" width="1" height="52" fill="#32CD32"/>
<rect x="491" y="171" width="5" height="23" fill="#32CD32"/>
<rect x="501" y="188" width="1" height="30" fill="#32CD32"/>
<rect x="499" y="193" width="5" height="17" fill="#32CD32"/>
<rect x="509" y="209" width="1" height="20" fill="#32CD32"/>
<rect x="507" y="209" width="5" height="18" fill="#32CD32"/>
<rect x="517" y="200" width="1" height="25" fill="#32CD32"/>
<rect x="515" y="206" width="5" height="12" fill="#32CD32"/>
<rect x="525" y="208" width="1" height="30" fill="#32CD32"/>
<rect x="523" y="217" width="5" height="12" fill="#32CD32"/>
<rect x="533" y="211" width="1" height="56" fill="#32CD32"/>
<rect x="531" y="228" width="5" height="36" fill="#32CD32"/>
<rect x="541" y="243" width="1" height="26" fill="#FF0000"/>
<rect x="539" y="259" width="5" height="5" fill="#FF0000"/>
<rect x="540" y="260" width="3" height="3" fill="#FF4500"/>
<rect x="549" y="244" width="1" height="38" fill="#FF0000"/>
<rect x="547" y="252" width="5" height="8" fill="#FF0000"/>
<rect x="548" y="253" width="3" height="6" fill="#FF4500"/>
<rect x="557" y="243" width="1" height="11" fill="#FF0000"/>
<rect x="555" y="246" width="5" height="7" fill="#FF0000"/>
<rect x="556" y="247" width="3" height="5" fill="#FF4500"/>
<rect x="565" y="232" width="1" height="32" fill="#FF0000"/>
<rect x="563" y="239" width="5" height="15" fill="#FF0000"/>
<rect x="564" y="240" width="3" height="13" fill="#FF4500"/>
<rect x="573" y="211" width="1" height="33" fill="#FF0000"/>
<rect x="571" y="219" width="5" height="21" fill="#FF0000"/>
<rect x="572" y="220" width="3" height="19" fill="#FF4500"/>
<rect x="581" y="213" width="1" height="33" fill="#FF0000"/>
<rect x="579" y="216" width="5" height="4" fill="#FF0000"/>
<rect x="580" y="217" width="3" height="2" fill="#FF4500"/>
<rect x="589" y="206" width="1" height="46" fill="#32CD32"/>
<rect x="587" y="216" width="5" height="21" fill="#32CD32"/>
<rect x="597" y="207" width="1" height="35" fill="#FF0000"/>
<rect x="595" y="213" width="5" height="24" fill="#FF0000"/>
<rect x="596" y="214" width="3" height="22" fill="#FF4500"/>
<rect x="605" y="213" width="1" height="7" fill="#32CD32"/>
<rect x="603" y="213" width="5" height="4" fill="#32CD32"/>
<rect x="613" y="189" width="1" height="34" fill="#FF0000"/>
<rect x="611" y="205" width="5" height="16" fill="#FF0000"/>
<rect x="612" y="206" width="3" height="14" fill="#FF4500"/>
<rect x="621" y="196" width="1" height="18" fill="#FF0000"/>
<rect x="619" y="204" width="5" height="2" fill="#FF0000"/>
<rect x="629" y="202" width="1" height="38" fill="#32CD32"/>
<rect x="627" y="203" width="5" height="13" fill="#32CD32"/>
<rect x="637" y="151" width="1" height="71" fill="#FF0000"/>
<rect x="635" y="196" width="5" height="20" fill="#FF0000"/>
<rect x="636" y="197" width="3" height="18" fill="#FF4500"/>
<rect x="645" y="191" width="1" height="34" fill="#32CD32"/>
<rect x="643" y="197" width="5" height="17" fill="#32CD32"/>
<rect x="653" y="210" width="1" height="14" fill="#32CD32"/>
<rect x="651" y="213" width="5" height="8" fill="#32CD32"/>
<rect x="661" y="191" width="1" height="42" fill="#FF0000"/>
<rect x="659" y="194" width="5" height="30" fill="#FF0000"/>
<rect x="660" y="195" width="3" height="28" fill="#FF4500"/>
<rect x="669" y="168" width="1" height="33" fill="#FF0000"/>
<rect x="667" y="174" width="5" height="22" fill="#FF0000"/>
<rect x="668" y="175" width="3" height="20" fill="#FF4500"/>
<rect x="677" y="167" width="1" height="63" fill="#32CD32"/>
<rect x="675" y="173" width="5" height="56" fill="#32CD32"/>
<rect x="685" y="200" width="1" height="31" fill="#FF0000"/>
<rect x="683" y="222" width="5" height="7" fill="#FF0000"/>
<rect x="684" y="223" width="3" height="5" fill="#FF4500"/>
<rect x="693" y="201" width="1" height="33" fill="#FF0000"/>
<rect x="691" y="202" width="5" height="20" fill="#FF0000"/>
<rect x="692" y="203" width="3" height="18" fill="#FF4500"/>
<rect x="701" y="201" width="1" height="10" fill="#32CD32"/>
<rect x="699" y="202" width="5" height="5" fill="#32CD32"/>
<rect x="709" y="180" width="1" height="23" fill="#FF0000"/>
<rect x="707" y="192" width="5" height="9" fill="#FF0000"/>
<rect x="708" y="193" width="3" height="7" fill="#FF4500"/>
<rect x="717" y="182" width="1" height="61" fill="#32CD32"/>
<rect x="715" y="192" width="5" height="47" fill="#32CD32"/>
<rect x="725" y="183" width="1" height="59" fill="#FF0000"/>
<rect x="723" y="185" width="5" height="54" fill="#FF0000"/>
<rect x="724" y="186" width="3" height="52" fill="#FF4500"/>
<rect x="733" y="181" width="1" height="27" fill="#32CD32"/>
<rect x="731" y="185" width="5" height="11" fill="#32CD32"/>
<rect x="741" y="180" width="1" height="32" fill="#32CD32"/>
<rect x="739" y="195" width="5" height="12" fill="#32CD32"/>
<rect x="749" y="202" width="1" height="8" fill="#FF0000"/>
<rect x="747" y="202" width="5" height="5" fill="#FF0000"/>
<rect x="748" y="203" width="3" height="3" fill="#FF4500"/>
<rect x="757" y="183" width="1" height="33" fill="#FF0000"/>
<rect x="755" y="186" width="5" height="16" fill="#FF0000"/>
<rect x="756" y="187" width="3" height="14" fill="#FF4500"/>
<rect x="765" y="163" width="1" height="28" fill="#FF0000"/>
<rect x="763" y="182" width="5" height="5" fill="#FF0000"/>
<rect x="764" y="183" width="3" height="3" fill="#FF4500"/>
<rect x="773" y="157" width="1" height="42" fill="#FF0000"/>
<rect x="771" y="160" width="5" height="23" fill="#FF0000"/>
<rect x="772" y="161" width="3" height="21" fill="#FF4500"/>
<rect x="781" y="145" width="1" height="41" fill="#32CD32"/>
<rect x="779" y="160" width="5" height="24" fill="#32CD32"/>
<rect x="789" y="132" width="1" height="61" fill="#FF0000"/>
<rect x="787" y="144" width="5" height="40" fill="#FF0000"/>
<rect x="788" y="145" width="3" height="38" fill="#FF4500"/>
<rect x="797" y="141" width="1" height="7" fill="#32CD32"/>
<rect x="795" y="144" width="5" height="4" fill="#32CD32"/>
<rect x="805" y="140" width="1" height="15" fill="#FF0000"/>
<rect x="803" y="143" width="5" height="5" fill="#FF0000"/>
<rect x="804" y="144" width="3" height="3" fill="#FF4500"/>
<rect x="813" y="141" width="1" height="33" fill="#32CD32"/>
<rect x="811" y="143" width="5" height="5" fill="#32CD32"/>
<rect x="821" y="124" width="1" height="40" fill="#32CD32"/>
<rect x="819" y="147" width="5" height="6" fill="#32CD32"/>
<rect x="829" y="126" width="1" height="44" fill="#32CD32"/>
<rect x="827" y="152" width="5" height="15" fill="#32CD32"/>
<rect x="837" y="165" width="1" height="12" fill="#32CD32"/>
<rect x="835" y="166" width="5" height="3" fill="#32CD32"/>
<rect x="845" y="165" width="1" height="6" fill="#FF0000"/>
<rect x="843" y="166" width="5" height="5" fill="#FF0000"/>
<rect x="844" y="167" width="3" height="3" fill="#FF4500"/>
<rect x="853" y="164" width="1" height="19" fill="#32CD32"/>
<rect x="851" y="166" width="5" height="13" fill="#32CD32"/>
<rect x="861" y="173" width="1" height="48" fill="#32CD32"/>
<rect x="859" y="178" width="5" height="31" fill="#32CD32"/>
<rect x="869" y="202" width="1" height="65" fill="#32CD32"/>
<rect x="867" y="208" width="5" height="56" fill="#32CD32"/>
<rect x="877" y="263" width="1" height="31" fill="#32CD32"/>
<rect x="875" y="263" width="5" height="15" fill="#32CD32"/>
<rect x="885" y="236" width="1" height="44" fill="#FF0000"/>
<rect x="883" y="249" width="5" height="29" fill="#FF0000"/>
<rect x="884" y="250" width="3" height="27" fill="#FF4500"/>
<rect x="893" y="247" width="1" height="8" fill="#32CD32"/>
<rect x="891" y="249" width="5" height="5" fill="#32CD32"/>
<rect x="901" y="236" width="1" height="18" fill="#FF0000"/>
<rect x="899" y="242" width="5" height="9" fill="#FF0000"/>
<rect x="900" y="243" width="3" height="7" fill="#FF4500"/>
<rect x="909" y="229" width="1" height="31" fill="#32CD32"/>
<rect x="907" y="242" width="5" height="12" fill="#32CD32"/>
<rect x="917" y="237" width="1" height="19" fill="#FF0000"/>
<rect x="915" y="242" width="5" height="11" fill="#FF0000"/>
<rect x="916" y="243" width="3" height="9" fill="#FF4500"/>
</g>
<rect x="660" y="121" width="331" height="3" fill="#FD3030"/>
<rect x="642" y="204" width="347" height="3" fill="#99CC00"/>
<rect x="603" y="294" width="390" height="5" fill="#3A92E2"/>
<rect x="1168" y="61" width="2" height="1" fill="#000"/>
<rect x="1168" y="94" width="2" height="1" fill="#000"/>
<rect x="1168" y="127" width="2" height="1" fill="#000"/>
<rect x="1168" y="160" width="2" height="1" fill="#000"/>
<rect x="1168" y="193" width="2" height="1" fill="#000"/>
<rect x="1168" y="226" width="2" height="1" fill="#000"/>
<rect x="1168" y="259" width="2" height="1" fill="#000"/>
<rect x="1168" y="292" width="2" height="1" fill="#000"/>
<rect x="1168" y="325" width="2" height="1" fill="#000"/>
<rect x="1168" y="358" width="2" height="1" fill="#000"/>
<rect x="1168" y="391" width="2" height="1" fill="#000"/>
<rect x="1168" y="424" width="2" height="1" fill="#000"/>
<rect x="1169" y="237" width="40" height="11" fill="#000"/>
<rect x="4" y="453" width="3" height="13" fill="#C0C0C0"/>
<rect x="12" y="453" width="3" height="18" fill="#C0C0C0"/>
<rect x="20" y="453" width="3" height="23" fill="#C0C0C0"/>
<rect x="28" y="453" width="3" height="29" fill="#C0C0C0"/>
<rect x="36" y="453" width="3" height="33" fill="#C0C0C0"/>
<rect x="44" y="453" width="3" height="35" fill="#C0C0C0"/>
<rect x="52" y="453" width="3" height="37" fill="#C0C0C0"/>
<rect x="60" y="453" width="3" height="39" fill="#C0C0C0"/>
<rect x="68" y="453" width="3" height="41" fill="#C0C0C0"/>
<rect x="76" y="453" width="3" height="40" fill="#C0C0C0"/>
<rect x="84" y="453" width="3" height="39" fill="#C0C0C0"/>
<rect x="92" y="453" width="3" height="39" fill="#C0C0C0"/>
<rect x="100" y="453" width="3" height="41" fill="#C0C0C0"/>
<rect x="108" y="453" width="3" height="41" fill="#C0C0C0"/>
<rect x="116" y="453" width="3" height="35" fill="#C0C0C0"/>
<rect x="124" y="453" width="3" height="29" fill="#C0C0C0"/>
<rect x="132" y="453" width="3" height="23" fill="#C0C0C0"/>
<rect x="140" y="453" width="3" height="18" fill="#C0C0C0"/>
<rect x="148" y="453" width="3" height="12" fill="#C0C0C0"/>
<rect x="156" y="453" width="3" height="6" fill="#C0C0C0"/>
<rect x="164" y="453" width="3" height="1" fill="#C0C0C0"/>
<rect x="172" y="447" width="3" height="6" fill="#C0C0C0"/>
<rect x="180" y="444" width="3" height="9" fill="#C0C0C0"/>
<rect x="188" y="441" width="3" height="12" fill="#C0C0C0"/>
<rect x="196" y="440" width="3" height="13" fill="#C0C0C0"/>
<rect x="204" y="440" width="3" height="13" fill="#C0C0C0"/>
<rect x="212" y="441" width="3" height="12" fill="#C0C0C0"/>
<rect x="220" y="442" width="3" height="11" fill="#C0C0C0"/>
<rect x="228" y="444" width="3" height="9" fill="#C0C0C0"/>
<rect x="236" y="445" width="3" height="8" fill="#C0C0C0"/>
<rect x="244" y="447" width="3" height="6" fill="#C0C0C0"/>
<rect x="252" y="451" width="3" height="2" fill="#C0C0C0"/>
<rect x="260" y="450" width="3" height="3" fill="#C0C0C0"/>
<rect x="268" y="448" width="3" height="5" fill="#C0C0C0"/>
<rect x="276" y="448" width="3" height="5" fill="#C0C0C0"/>
<rect x="284" y="449" width="3" height="4" fill="#C0C0C0"/>
<rect x="292" y="448" width="3" height="5" fill="#C0C0C0"/>
<rect x="300" y="439" width="3" height="14" fill="#C0C0C0"/>
<rect x="308" y="436" width="3" height="17" fill="#C0C0C0"/>
<rect x="316" y="434" width="3" height="19" fill="#C0C0C0"/>
<rect x="324" y="434" width="3" height="19" fill="#C0C0C0"/>
<rect x="332" y="434" width="3" height="19" fill="#C0C0C0"/>
<rect x="340" y="439" width="3" height="14" fill="#C0C0C0"/>
<rect x="348" y="446" width="3" height="7" fill="#C0C0C0"/>
<rect x="356" y="452" width="3" height="1" fill="#C0C0C0"/>
<rect x="364" y="453" width="3" height="5" fill="#C0C0C0"/>
<rect x="372" y="453" width="3" height="10" fill="#C0C0C0"/>
<rect x="380" y="453" width="3" height="13" fill="#C0C0C0"/>
<rect x="388" y="453" width="3" height="13" fill="#C0C0C0"/>
<rect x="396" y="453" width="3" height="14" fill="#C0C0C0"/>
<rect x="404" y="453" width="3" height="14" fill="#C0C0C0"/>
<rect x="412" y="453" width="3" height="12" fill="#C0C0C0"/>
<rect x="420" y="453" width="3" height="9" fill="#C0C0C0"/>
<rect x="428" y="453" width="3" height="8" fill="#C0C0C0"/>
<rect x="436" y="453" width="3" height="6" fill="#C0C0C0"/>
<rect x="444" y="453" width="3" height="8" fill="#C0C0C0"/>
<rect x="452" y="453" width="3" height="7" fill="#C0C0C0"/>
<rect x="460" y="453" width="3" height="7" fill="#C0C0C0"/>
<rect x="468" y="453" width="3" height="4" fill="#C0C0C0"/>
<rect x="476" y="453" width="3" height="1" fill="#C0C0C0"/>
<rect x="484" y="453" width="3" height="1" fill="#C0C0C0"/>
<rect x="492" y="453" width="3" height="3" fill="#C0C0C0"/>
<rect x="500" y="453" width="3" height="5" fill="#C0C0C0"/>
<rect x="508" y="453" width="3" height="9" fill="#C0C0C0"/>
<rect x="516" y="453" width="3" height="10" fill="#C0C0C0"/>
<rect x="524" y="453" width="3" height="12" fill="#C0C0C0"/>
<rect x="532" y="453" width="3" height="16" fill="#C0C0C0"/>
<rect x="540" y="453" width="3" height="19" fill="#C0C0C0"/>
<rect x="548" y="453" width="3" height="21" fill="#C0C0C0"/>
<rect x="556" y="453" width="3" height="21" fill="#C0C0C0"/>
<rect x="564" y="453" width="3" height="21" fill="#C0C0C0"/>
<rect x="572" y="453" width="3" height="19" fill="#C0C0C0"/>
<rect x="580" y="453" width="3" height="17" fill="#C0C0C0"/>
<rect x="588" y="453" width="3" height="16" fill="#C0C0C0"/>
<rect x="596" y="453" width="3" height="14" fill="#C0C0C0"/>
<rect x="604" y="453" width="3" height="12" fill="#C0C0C0"/>
<rect x="612" y="453" width="3" height="10" fill="#C0C0C0"/>
<rect x="620" y="453" width="3" height="8" fill="#C0C0C0"/>
<rect x="628" y="453" width="3" height="8" fill="#C0C0C0"/>
<rect x="636" y="453" width="3" height="5" fill="#C0C0C0"/>
<rect x="644" y="453" width="3" height="5" fill="#C0C0C0"/>
<rect x="652" y="453" width="3" height="5" fill="#C0C0C0"/>
<rect x="660" y="453" width="3" height="3" fill="#C0C0C0"/>
<rect x="668" y="452" width="3" height="1" fill="#C0C0C0"/>
<rect x="676" y="453" width="3" height="2" fill="#C0C0C0"/>
<rect x="684" y="453" width="3" height="3" fill="#C0C0C0"/>
<rect x="692" y="453" width="3" height="2" fill="#C0C0C0"/>
<rect x="700" y="453" width="3" height="2" fill="#C0C0C0"/>
<rect x="708" y="452" width="3" height="1" fill="#C0C0C0"/>
<rect x="716" y="453" width="3" height="3" fill="#C0C0C0"/>
<rect x="724" y="453" width="3" height="2" fill="#C0C0C0"/>
<rect x="732" y="452" width="3" height="1" fill="#C0C0C0"/>
<rect x="740" y="452" width="3" height="1" fill="#C0C0C0"/>
<rect x="748" y="452" width="3" height="1" fill="#C0C0C0"/>
<rect x="756" y="450" width="3" height="3" fill="#C0C0C0"/>
<rect x="764" y="449" width="3" height="4" fill="#C0C0C0"/>
<rect x="772" y="446" width="3" height="7" fill="#C0C0C0"/>
<rect x="780" y="446" width="3" height="7" fill="#C0C0C0"/>
<rect x="788" y="443" width="3" height="10" fill="#C0C0C0"/>
<rect x="796" y="441" width="3" height="12" fill="#C0C0C0"/>
<rect x="804" y="439" width="3" height="14" fill="#C0C0C0"/>
<rect x="812" y="438" width="3" height="15" fill="#C0C0C0"/>
<rect x="820" y="438" width="3" height="15" fill="#C0C0C0"/>
<rect x="828" y="439" width="3" height="14" fill="#C0C0C0"/>
<rect x="836" y="440" width="3" height="13" fill="#C0C0C0"/>
<rect x="844" y="441" width="3" height="12" fill="#C0C0C0"/>
<rect x="852" y="443" width="3" height="10" fill="#C0C0C0"/>
<rect x="860" y="446" width="3" height="7" fill="#C0C0C0"/>
<rect x="868" y="453" width="3" height="2" fill="#C0C0C0"/>
<rect x="876" y="453" width="3" height="8" fill="#C0C0C0"/>
<rect x="884" y="453" width="3" height="11" fill="#C0C0C0"/>
<rect x="892" y="453" width="3" height="14" fill="#C0C0C0"/>
<rect x="900" y="453" width="3" height="15" fill="#C0C0C0"/>
<rect x="908" y="453" width="3" height="16" fill="#C0C0C0"/>
<rect x="916" y="453" width="3" height="16" fill="#C0C0C0"/>
<clipPath id="c2"><rect x="5" y="430" width="1162" height="67"/></clipPath>
<path clip-path="url(#c2)" transform="translate(0,0.5)" fill="none" stroke="#FF0000" stroke-width="1" d="M337,440h26M840,440h20M332,441h5M363,441h4M833,441h7M860,441h6M328,442h4M367,442h4M826,442h7M866,442h5M325,443h3M371,443h2M820,443h6M871,443h4M226,444h35M322,444h3M373,444h2M814,444h6M875,444h4M221,445h5M261,445h6M319,445h3M375,445h3M808,445h6M879,445h3M217,446h4M267,446h6M311,446h8M378,446h2M802,446h6M882,446h2M213,447h4M273,447h6M300,447h11M380,447h3M796,447h6M884,447h3M211,448h2M279,448h21M383,448h3M790,448h6M887,448h3M208,449h3M386,449h3M784,449h6M890,449h2M206,450h2M389,450h3M778,450h6M892,450h2M203,451h3M392,451h2M772,451h6M894,451h3M201,452h2M394,452h2M761,452h11M897,452h2M199,453h2M396,453h2M718,453h43M899,453h3M197,454h2M398,454h2M703,454h15M902,454h2M195,455h2M400,455h2M694,455h9M904,455h3M194,456h1M402,456h2M683,456h11M907,456h3M192,457h2M404,457h3M488,457h35M676,457h7M910,457h2M5,458h2M191,458h1M407,458h2M483,458h5M523,458h5M671,458h5M912,458h3M7,459h2M190,459h1M409,459h3M478,459h5M528,459h5M666,459h5M915,459h2M9,460h3M188,460h2M412,460h3M473,460h5M533,460h4M661,460h5M12,461h2M187,461h1M415,461h4M465,461h8M537,461h4M656,461h5M14,462h3M186,462h1M419,462h6M454,462h11M541,462h3M652,462h4M17,463h2M184,463h2M425,463h29M544,463h4M647,463h5M19,464h3M183,464h1M548,464h4M642,464h5M22,465h3M181,465h2M552,465h5M637,465h5M25,466h3M180,466h1M557,466h5M632,466h5M28,467h2M179,467h1M562,467h5M624,467h8M30,468h3M177,468h2M567,468h5M617,468h7M33,469h3M176,469h1M572,469h5M613,469h4M36,470h3M175,470h1M577,470h6M609,470h4M39,471h3M173,471h2M583,471h26M42,472h2M172,472h1M44,473h2M170,473h2M46,474h2M168,474h2M48,475h2M166,475h2M50,476h3M164,476h2M53,477h2M162,477h2M55,478h2M160,478h2M57,479h2M158,479h2M59,480h3M156,480h2M62,481h3M154,481h2M65,482h2M151,482h3M67,483h3M149,483h2M70,484h3M147,484h2M73,485h2M145,485h2M75,486h3M142,486h3M78,487h4M138,487h4M82,488h4M135,488h3M86,489h5M131,489h4M91,490h6M127,490h4M97,491h7M122,491h5M104,492h18"/>
<rect x="1168" y="453" width="2" height="1" fill="#000"/>
<rect x="1168" y="430" width="1" height="1" fill="#000"/>
<rect x="1168" y="496" width="1" height="1" fill="#000"/>
<rect x="6" y="525" width="3" height="1" fill="#C0C0C0"/>
<rect x="12" y="525" width="3" height="1" fill="#C0C0C0"/>
<rect x="18" y="525" width="3" height="1" fill="#C0C0C0"/>
<rect x="24" y="525" width="3" height="1" fill="#C0C0C0"/>
<rect x="30" y="525" width="3" height="1" fill="#C0C0C0"/>
<rect x="36" y="525" width="3" height="1" fill="#C0C0C0"/>
<rect x="42" y="525" width="3" height="1" fill="#C0C0C0"/>
<rect x="48" y="525" width="3" height="1" fill="#C0C0C0"/>
<rect x="54" y="525" width="3" height="1" fill="#C0C0C0"/>
<rect x="60" y="525" width="3" height="1" fill="#C0C0C0"/>
<rect x="66" y="525" width="3" height="1" fill="#C0C0C0"/>
<rect x="72" y="525" width="3" height="1" fill="#C0C0C0"/>
<rect x="78" y="525" width="3" height="1" fill="#C0C0C0"/>
<rect x="84" y="525" width="3" height="1" fill="#C0C0C0"/>
<rect x="90" y="525" width="3" height="1" fill="#C0C0C0"/>
<rect x="96" y="525" width="3" height="1" fill="#C0C0C0"/>
<rect x="102" y="525" width="3" height="1" fill="#C0C0C0"/>
<rect x="108" y="525" width="3" height="1" fill="#C0C0C0"/>
<rect x="114" y="525" width="3" height="1" fill="#C0C0C0"/>
<rect x="120" y="525" width="3" height="1" fill="#C0C0C0"/>
<rect x="126" y="525" width="3" height="1" fill="#C0C0C0"/>
<rect x="132" y="525" width="3" height="1" fill="#C0C0C0"/>
<rect x="138" y="525" width="3" height="1" fill="#C0C0C0"/>
<rect x="144" y="525" width="3" height="1" fill="#C0C0C0"/>
<rect x="150" y="525" width="3" height="1" fill="#C0C0C0"/>
<rect x="156" y="525" width="3" height="1" fill="#C0C0C0"/>
<rect x="162" y="525" width="3" height="1" fill="#C0C0C0"/>
<rect x="168" y="525" width="3" height="1" fill="#C0C0C0"/>
<rect x="174" y="525" width="3" height="1" fill="#C0C0C0"/>
<rect x="180" y="525" width="3" height="1" fill="#C0C0C0"/>
<rect x="186" y="525" width="3" height="1" fill="#C0C0C0"/>
<rect x="192" y="525" width="3" height="1" fill="#C0C0C0"/>
<rect x="198" y="525" width="3" height="1" fill="#C0C0C0"/>
<rect x="204" y="525" width="3" height="1" fill="#C0C0C0"/>
<rect x="210" y="525" width="3" height="1" fill="#C0C0C0"/>
<rect x="216" y="525" width="3" height="1" fill="#C0C0C0"/>
<rect x="222" y="525" width="3" height="1" fill="#C0C0C0"/>
<rect x="228" y="525" width="3" height="1" fill="#C0C0C0"/>
<rect x="234" y="525" width="3" height="1" fill="#C0C0C0"/>
<rect x="240" y="525" width="3" height="1" fill="#C0C0C0"/>
<rect x="246" y="525" width="3" height="1" fill="#C0C0C0"/>
<rect x="252" y="525" width="3" height="1" fill="#C0C0C0"/>
<rect x="258" y="525" width="3" height="1" fill="#C0C0C0"/>
<rect x="264" y="525" width="3" height="1" fill="#C0C0C0"/>
<rect x="270" y="525" width="3" height="1" fill="#C0C0C0"/>
<rect x="276" y="525" width="3" height="1" fill="#C0C0C0"/>
<rect x="282" y="525" width="3" height="1" fill="#C0C0C0"/>
<rect x="288" y="525" width="3" height="1" fill="#C0C0C0"/>
<rect x="294" y="525" width="3" height="1" fill="#C0C0C0"/>
<rect x="300" y="525" width="3" height="1" fill="#C0C0C0"/>
<rect x="306" y="525" width="3" height="1" fill="#C0C0C0"/>
<rect x="312" y="525" width="3" height="1" fill="#C0C0C0"/>
<rect x="318" y="525" width="3" height="1" fill="#C0C0C0"/>
<rect x="324" y="525" width="3" height="1" fill="#C0C0C0"/>
<rect x="330" y="525" width="3" height="1" fill="#C0C0C0"/>
<rect x="336" y="525" width="3" height="1" fill="#C0C0C0"/>
<rect x="342" y="525" width="3" height="1" fill="#C0C0C0"/>
<rect x="348" y="525" width="3" height="1" fill="#C0C0C0"/>
<rect x="354" y="525" width="3" height="1" fill="#C0C0C0"/>
<rect x="360" y="525" width="3" height="1" fill="#C0C0C0"/>
<rect x="366" y="525" width="3" height="1" fill="#C0C0C0"/>
<rect x="372" y="525" width="3" height="1" fill="#C0C0C0"/>
<rect x="378" y="525" width="3" height="1" fill="#C0C0C0"/>
<rect x="384" y="525" width="3" height="1" fill="#C0C0C0"/>
<rect x="390" y="525" width="3" height="1" fill="#C0C0C0"/>
<rect x="396" y="525" width="3" height="1" fill="#C0C0C0"/>
<rect x="402" y="525" width="3" height="1" fill="#C0C0C0"/>
<rect x="408" y="525" width="3" height="1" fill="#C0C0C0"/>
<rect x="414" y="525" width="3" height="1" fill="#C0C0C0"/>
<rect x="420" y="525" width="3" height="1" fill="#C0C0C0"/>
<rect x="426" y="525" width="3" height="1" fill="#C0C0C0"/>
<rect x="432" y="525" width="3" height="1" fill="#C0C0C0"/>
<rect x="438" y="525" width="3" height="1" fill="#C0C0C0"/>
<rect x="444" y="525" width="3" height="1" fill="#C0C0C0"/>
<rect x="450" y="525" width="3" height="1" fill="#C0C0C0"/>
<rect x="456" y="525" width="3" height="1" fill="#C0C0C0"/>
<rect x="462" y="525" width="3" height="1" fill="#C0C0C0"/>
<rect x="468" y="525" width="3" height="1" fill="#C0C0C0"/>
<rect x="474" y="525" width="3" height="1" fill="#C0C0C0"/>
<rect x="480" y="525" width="3" height="1" fill="#C0C0C0"/>
<rect x="486" y="525" width="3" height="1" fill="#C0C0C0"/>
<rect x="492" y="525" width="3" height="1" fill="#C0C0C0"/>
<rect x="498" y="525" width="3" height="1" fill="#C0C0C0"/>
<rect x="504" y="525" width="3" height="1" fill="#C0C0C0"/>
<rect x="510" y="525" width="3" height="1" fill="#C0C0C0"/>
<rect x="516" y="525" width="3" height="1" fill="#C0C0C0"/>
<rect x="522" y="525" width="3" height="1" fill="#C0C0C0"/>
<rect x="528" y="525" width="3" height="1" fill="#C0C0C0"/>
<rect x="534" y="525" width="3" height="1" fill="#C0C0C0"/>
<rect x="540" y="525" width="3" height="1" fill="#C0C0C0"/>
<rect x="546" y="525" width="3" height="1" fill="#C0C0C0"/>
<rect x="552" y="525" width="3" height="1" fill="#C0C0C0"/>
<rect x="558" y="525" width="3" height="1" fill="#C0C0C0"/>
<rect x="564" y="525" width="3" height="1" fill="#C0C0C0"/>
<rect x="570" y="525" width="3" height="1" fill="#C0C0C0"/>
<rect x="576" y="525" width="3" height="1" fill="#C0C0C0"/>
<rect x="582" y="525" width="3" height="1" fill="#C0C0C0"/>
<rect x="588" y="525" width="3" height="1" fill="#C0C0C0"/>
<rect x="594" y="525" width="3" height="1" fill="#C0C0C0"/>
<rect x="600" y="525" width="3" height="1" fill="#C0C0C0"/>
<rect x="606" y="525" width="3" height="1" fill="#C0C0C0"/>
<rect x="612" y="525" width="3" height="1" fill="#C0C0C0"/>
<rect x="618" y="525" width="3" height="1" fill="#C0C0C0"/>
<rect x="624" y="525" width="3" height="1" fill="#C0C0C0"/>
<rect x="630" y="525" width="3" height="1" fill="#C0C0C0"/>
<rect x="636" y="525" width="3" height="1" fill="#C0C0C0"/>
<rect x="642" y="525" width="3" height="1" fill="#C0C0C0"/>
<rect x="648" y="525" width="3" height="1" fill="#C0C0C0"/>
<rect x="654" y="525" width="3" height="1" fill="#C0C0C0"/>
<rect x="660" y="525" width="3" height="1" fill="#C0C0C0"/>
<rect x="666" y="525" width="3" height="1" fill="#C0C0C0"/>
<rect x="672" y="525" width="3" height="1" fill="#C0C0C0"/>
<rect x="678" y="525" width="3" height="1" fill="#C0C0C0"/>
<rect x="684" y="525" width="3" height="1" fill="#C0C0C0"/>
<rect x="690" y="525" width="3" height="1" fill="#C0C0C0"/>
<rect x="696" y="525" width="3" height="1" fill="#C0C0C0"/>
<rect x="702" y="525" width="3" height="1" fill="#C0C0C0"/>
<rect x="708" y="525" width="3" height="1" fill="#C0C0C0"/>
<rect x="714" y="525" width="3" height="1" fill="#C0C0C0"/>
<rect x="720" y="525" width="3" height="1" fill="#C0C0C0"/>
<rect x="726" y="525" width="3" height="1" fill="#C0C0C0"/>
<rect x="732" y="525" width="3" height="1" fill="#C0C0C0"/>
<rect x="738" y="525" width="3" height="1" fill="#C0C0C0"/>
<rect x="744" y="525" width="3" height="1" fill="#C0C0C0"/>
<rect x="750" y="525" width="3" height="1" fill="#C0C0C0"/>
<rect x="756" y="525" width="3" height="1" fill="#C0C0C0"/>
<rect x="762" y="525" width="3" height="1" fill="#C0C0C0"/>
<rect x="768" y="525" width="3" height="1" fill="#C0C0C0"/>
<rect x="774" y="525" width="3" height="1" fill="#C0C0C0"/>
<rect x="780" y="525" width="3" height="1" fill="#C0C0C0"/>
<rect x="786" y="525" width="3" height="1" fill="#C0C0C0"/>
<rect x="792" y="525" width="3" height="1" fill="#C0C0C0"/>
<rect x="798" y="525" width="3" height="1" fill="#C0C0C0"/>
<rect x="804" y="525" width="3" height="1" fill="#C0C0C0"/>
<rect x="810" y="525" width="3" height="1" fill="#C0C0C0"/>
<rect x="816" y="525" width="3" height="1" fill="#C0C0C0"/>
<rect x="822" y="525" width="3" height="1" fill="#C0C0C0"/>
<rect x="828" y="525" width="3" height="1" fill="#C0C0C0"/>
<rect x="834" y="525" width="3" height="1" fill="#C0C0C0"/>
<rect x="840" y="525" width="3" height="1" fill="#C0C0C0"/>
<rect x="846" y="525" width="3" height="1" fill="#C0C0C0"/>
<rect x="852" y="525" width="3" height="1" fill="#C0C0C0"/>
<rect x="858" y="525" width="3" height="1" fill="#C0C0C0"/>
<rect x="864" y="525" width="3" height="1" fill="#C0C0C0"/>
<rect x="870" y="525" width="3" height="1" fill="#C0C0C0"/>
<rect x="876" y="525" width="3" height="1" fill="#C0C0C0"/>
<rect x="882" y="525" width="3" height="1" fill="#C0C0C0"/>
<rect x="888" y="525" width="3" height="1" fill="#C0C0C0"/>
<rect x="894" y="525" width="3" height="1" fill="#C0C0C0"/>
<rect x="900" y="525" width="3" height="1" fill="#C0C0C0"/>
<rect x="906" y="525" width="3" height="1" fill="#C0C0C0"/>
<rect x="912" y="525" width="3" height="1" fill="#C0C0C0"/>
<rect x="918" y="525" width="3" height="1" fill="#C0C0C0"/>
<rect x="924" y="525" width="3" height="1" fill="#C0C0C0"/>
<rect x="930" y="525" width="3" height="1" fill="#C0C0C0"/>
<rect x="936" y="525" width="3" height="1" fill="#C0C0C0"/>
<rect x="942" y="525" width="3" height="1" fill="#C0C0C0"/>
<rect x="948" y="525" width="3" height="1" fill="#C0C0C0"/>
<rect x="954" y="525" width="3" height="1" fill="#C0C0C0"/>
<rect x="960" y="525" width="3" height="1" fill="#C0C0C0"/>
<rect x="966" y="525" width="3" height="1" fill="#C0C0C0"/>
<rect x="972" y="525" width="3" height="1" fill="#C0C0C0"/>
<rect x="978" y="525" width="3" height="1" fill="#C0C0C0"/>
<rect x="984" y="525" width="3" height="1" fill="#C0C0C0"/>
<rect x="990" y="525" width="3" height="1" fill="#C0C0C0"/>
<rect x="996" y="525" width="3" height="1" fill="#C0C0C0"/>
<rect x="1002" y="525" width="3" height="1" fill="#C0C0C0"/>
<rect x="1008" y="525" width="3" height="1" fill="#C0C0C0"/>
<rect x="1014" y="525" width="3" height="1" fill="#C0C0C0"/>
<rect x="1020" y="525" width="3" height="1" fill="#C0C0C0"/>
<rect x="1026" y="525" width="3" height="1" fill="#C0C0C0"/>
<rect x="1032" y="525" width="3" height="1" fill="#C0C0C0"/>
<rect x="1038" y="525" width="3" height="1" fill="#C0C0C0"/>
<rect x="1044" y="525" width="3" height="1" fill="#C0C0C0"/>
<rect x="1050" y="525" width="3" height="1" fill="#C0C0C0"/>
<rect x="1056" y="525" width="3" height="1" fill="#C0C0C0"/>
<rect x="1062" y="525" width="3" height="1" fill="#C0C0C0"/>
<rect x="1068" y="525" width="3" height="1" fill="#C0C0C0"/>
<rect x="1074" y="525" width="3" height="1" fill="#C0C0C0"/>
<rect x="1080" y="525" width="3" height="1" fill="#C0C0C0"/>
<rect x="1086" y="525" width="3" height="1" fill="#C0C0C0"/>
<rect x="1092" y="525" width="3" height="1" fill="#C0C0C0"/>
<rect x="1098" y="525" width="3" height="1" fill="#C0C0C0"/>
<rect x="1104" y="525" width="3" height="1" fill="#C0C0C0"/>
<rect x="1110" y="525" width="3" height="1" fill="#C0C0C0"/>
<rect x="1116" y="525" width="3" height="1" fill="#C0C0C0"/>
<rect x="1122" y="525" width="3" height="1" fill="#C0C0C0"/>
<rect x="1128" y="525" width="3" height="1" fill="#C0C0C0"/>
<rect x="1134" y="525" width="3" height="1" fill="#C0C0C0"/>
<rect x="1140" y="525" width="3" height="1" fill="#C0C0C0"/>
<rect x="1146" y="525" width="3" height="1" fill="#C0C0C0"/>
<rect x="1152" y="525" width="3" height="1" fill="#C0C0C0"/>
<rect x="1158" y="525" width="3" height="1" fill="#C0C0C0"/>
<rect x="1164" y="525" width="3" height="1" fill="#C0C0C0"/>
<rect x="1168" y="525" width="2" height="1" fill="#000"/>
<rect x="6" y="558" width="3" height="1" fill="#C0C0C0"/>
<rect x="12" y="558" width="3" height="1" fill="#C0C0C0"/>
<rect x="18" y="558" width="3" height="1" fill="#C0C0C0"/>
<rect x="24" y="558" width="3" height="1" fill="#C0C0C0"/>
<rect x="30" y="558" width="3" height="1" fill="#C0C0C0"/>
<rect x="36" y="558" width="3" height="1" fill="#C0C0C0"/>
<rect x="42" y="558" width="3" height="1" fill="#C0C0C0"/>
<rect x="48" y="558" width="3" height="1" fill="#C0C0C0"/>
<rect x="54" y="558" width="3" height="1" fill="#C0C0C0"/>
<rect x="60" y="558" width="3" height="1" fill="#C0C0C0"/>
<rect x="66" y="558" width="3" height="1" fill="#C0C0C0"/>
<rect x="72" y="558" width="3" height="1" fill="#C0C0C0"/>
<rect x="78" y="558" width="3" height="1" fill="#C0C0C0"/>
<rect x="84" y="558" width="3" height="1" fill="#C0C0C0"/>
<rect x="90" y="558" width="3" height="1" fill="#C0C0C0"/>
<rect x="96" y="558" width="3" height="1" fill="#C0C0C0"/>
<rect x="102" y="558" width="3" height="1" fill="#C0C0C0"/>
<rect x="108" y="558" width="3" height="1" fill="#C0C0C0"/>
<rect x="114" y="558" width="3" height="1" fill="#C0C0C0"/>
<rect x="120" y="558" width="3" height="1" fill="#C0C0C0"/>
<rect x="126" y="558" width="3" height="1" fill="#C0C0C0"/>
<rect x="132" y="558" width="3" height="1" fill="#C0C0C0"/>
<rect x="138" y="558" width="3" height="1" fill="#C0C0C0"/>
<rect x="144" y="558" width="3" height="1" fill="#C0C0C0"/>
<rect x="150" y="558" width="3" height="1" fill="#C0C0C0"/>
<rect x="156" y="558" width="3" height="1" fill="#C0C0C0"/>
<rect x="162" y="558" width="3" height="1" fill="#C0C0C0"/>
<rect x="168" y="558" width="3" height="1" fill="#C0C0C0"/>
<rect x="174" y="558" width="3" height="1" fill="#C0C0C0"/>
<rect x="180" y="558" width="3" height="1" fill="#C0C0C0"/>
<rect x="186" y="558" width="3" height="1" fill="#C0C0C0"/>
<rect x="192" y="558" width="3" height="1" fill="#C0C0C0"/>
<rect x="198" y="558" width="3" height="1" fill="#C0C0C0"/>
<rect x="204" y="558" width="3" height="1" fill="#C0C0C0"/>
<rect x="210" y="558" width="3" height="1" fill="#C0C0C0"/>
<rect x="216" y="558" width="3" height="1" fill="#C0C0C0"/>
<rect x="222" y="558" width="3" height="1" fill="#C0C0C0"/>
<rect x="228" y="558" width="3" height="1" fill="#C0C0C0"/>
<rect x="234" y="558" width="3" height="1" fill="#C0C0C0"/>
<rect x="240" y="558" width="3" height="1" fill="#C0C0C0"/>
<rect x="246" y="558" width="3" height="1" fill="#C0C0C0"/>
<rect x="252" y="558" width="3" height="1" fill="#C0C0C0"/>
<rect x="258" y="558" width="3" height="1" fill="#C0C0C0"/>
<rect x="264" y="558" width="3" height="1" fill="#C0C0C0"/>
<rect x="270" y="558" width="3" height="1" fill="#C0C0C0"/>
<rect x="276" y="558" width="3" height="1" fill="#C0C0C0"/>
<rect x="282" y="558" width="3" height="1" fill="#C0C0C0"/>
<rect x="288" y="558" width="3" height="1" fill="#C0C0C0"/>
<rect x="294" y="558" width="3" height="1" fill="#C0C0C0"/>
<rect x="300" y="558" width="3" height="1" fill="#C0C0C0"/>
<rect x="306" y="558" width="3" height="1" fill="#C0C0C0"/>
<rect x="312" y="558" width="3" height="1" fill="#C0C0C0"/>
<rect x="318" y="558" width="3" height="1" fill="#C0C0C0"/>
<rect x="324" y="558" width="3" height="1" fill="#C0C0C0"/>
<rect x="330" y="558" width="3" height="1" fill="#C0C0C0"/>
<rect x="336" y="558" width="3" height="1" fill="#C0C0C0"/>
<rect x="342" y="558" width="3" height="1" fill="#C0C0C0"/>
<rect x="348" y="558" width="3" height="1" fill="#C0C0C0"/>
<rect x="354" y="558" width="3" height="1" fill="#C0C0C0"/>
<rect x="360" y="558" width="3" height="1" fill="#C0C0C0"/>
<rect x="366" y="558" width="3" height="1" fill="#C0C0C0"/>
<rect x="372" y="558" width="3" height="1" fill="#C0C0C0"/>
<rect x="378" y="558" width="3" height="1" fill="#C0C0C0"/>
<rect x="384" y="558" width="3" height="1" fill="#C0C0C0"/>
<rect x="390" y="558" width="3" height="1" fill="#C0C0C0"/>
<rect x="396" y="558" width="3" height="1" fill="#C0C0C0"/>
<rect x="402" y="558" width="3" height="1" fill="#C0C0C0"/>
<rect x="408" y="558" width="3" height="1" fill="#C0C0C0"/>
<rect x="414" y="558" width="3" height="1" fill="#C0C0C0"/>
<rect x="420" y="558" width="3" height="1" fill="#C0C0C0"/>
<rect x="426" y="558" width="3" height="1" fill="#C0C0C0"/>
<rect x="432" y="558" width="3" height="1" fill="#C0C0C0"/>
<rect x="438" y="558" width="3" height="1" fill="#C0C0C0"/>
<rect x="444" y="558" width="3" height="1" fill="#C0C0C0"/>
<rect x="450" y="558" width="3" height="1" fill="#C0C0C0"/>
<rect x="456" y="558" width="3" height="1" fill="#C0C0C0"/>
<rect x="462" y="558" width="3" height="1" fill="#C0C0C0"/>
<rect x="468" y="558" width="3" height="1" fill="#C0C0C0"/>
<rect x="474" y="558" width="3" height="1" fill="#C0C0C0"/>
<rect x="480" y="558" width="3" height="1" fill="#C0C0C0"/>
<rect x="486" y="558" width="3" height="1" fill="#C0C0C0"/>
<rect x="492" y="558" width="3" height="1" fill="#C0C0C0"/>
<rect x="498" y="558" width="3" height="1" fill="#C0C0C0"/>
<rect x="504" y="558" width="3" height="1" fill="#C0C0C0"/>
<rect x="510" y="558" width="3" height="1" fill="#C0C0C0"/>
<rect x="516" y="558" width="3" height="1" fill="#C0C0C0"/>
<rect x="522" y="558" width="3" height="1" fill="#C0C0C0"/>
<rect x="528" y="558" width="3" height="1" fill="#C0C0C0"/>
<rect x="534" y="558" width="3" height="1" fill="#C0C0C0"/>
<rect x="540" y="558" width="3" height="1" fill="#C0C0C0"/>
<rect x="546" y="558" width="3" height="1" fill="#C0C0C0"/>
<rect x="552" y="558" width="3" height="1" fill="#C0C0C0"/>
<rect x="558" y="558" width="3" height="1" fill="#C0C0C0"/>
<rect x="564" y="558" width="3" height="1" fill="#C0C0C0"/>
<rect x="570" y="558" width="3" height="1" fill="#C0C0C0"/>
<rect x="576" y="558" width="3" height="1" fill="#C0C0C0"/>
<rect x="582" y="558" width="3" height="1" fill="#C0C0C0"/>
<rect x="588" y="558" width="3" height="1" fill="#C0C0C0"/>
<rect x="594" y="558" width="3" height="1" fill="#C0C0C0"/>
<rect x="600" y="558" width="3" height="1" fill="#C0C0C0"/>
<rect x="606" y="558" width="3" height="1" fill="#C0C0C0"/>
<rect x="612" y="558" width="3" height="1" fill="#C0C0C0"/>
<rect x="618" y="558" width="3" height="1" fill="#C0C0C0"/>
<rect x="624" y="558" width="3" height="1" fill="#C0C0C0"/>
<rect x="630" y="558" width="3" height="1" fill="#C0C0C0"/>
<rect x="636" y="558" width="3" height="1" fill="#C0C0C0"/>
<rect x="642" y="558" width="3" height="1" fill="#C0C0C0"/>
<rect x="648" y="558" width="3" height="1" fill="#C0C0C0"/>
<rect x="654" y="558" width="3" height="1" fill="#C0C0C0"/>
<rect x="660" y="558" width="3" height="1" fill="#C0C0C0"/>
<rect x="666" y="558" width="3" height="1" fill="#C0C0C0"/>
<rect x="672" y="558" width="3" height="1" fill="#C0C0C0"/>
<rect x="678" y="558" width="3" height="1" fill="#C0C0C0"/>
<rect x="684" y="558" width="3" height="1" fill="#C0C0C0"/>
<rect x="690" y="558" width="3" height="1" fill="#C0C0C0"/>
<rect x="696" y="558" width="3" height="1" fill="#C0C0C0"/>
<rect x="702" y="558" width="3" height="1" fill="#C0C0C0"/>
<rect x="708" y="558" width="3" height="1" fill="#C0C0C0"/>
<rect x="714" y="558" width="3" height="1" fill="#C0C0C0"/>
<rect x="720" y="558" width="3" height="1" fill="#C0C0C0"/>
<rect x="726" y="558" width="3" height="1" fill="#C0C0C0"/>
<rect x="732" y="558" width="3" height="1" fill="#C0C0C0"/>
<rect x="738" y="558" width="3" height="1" fill="#C0C0C0"/>
<rect x="744" y="558" width="3" height="1" fill="#C0C0C0"/>
<rect x="750" y="558" width="3" height="1" fill="#C0C0C0"/>
<rect x="756" y="558" width="3" height="1" fill="#C0C0C0"/>
<rect x="762" y="558" width="3" height="1" fill="#C0C0C0"/>
<rect x="768" y="558" width="3" height="1" fill="#C0C0C0"/>
<rect x="774" y="558" width="3" height="1" fill="#C0C0C0"/>
<rect x="780" y="558" width="3" height="1" fill="#C0C0C0"/>
<rect x="786" y="558" width="3" height="1" fill="#C0C0C0"/>
<rect x="792" y="558" width="3" height="1" fill="#C0C0C0"/>
<rect x="798" y="558" width="3" height="1" fill="#C0C0C0"/>
<rect x="804" y="558" width="3" height="1" fill="#C0C0C0"/>
<rect x="810" y="558" width="3" height="1" fill="#C0C0C0"/>
<rect x="816" y="558" width="3" height="1" fill="#C0C0C0"/>
<rect x="822" y="558" width="3" height="1" fill="#C0C0C0"/>
<rect x="828" y="558" width="3" height="1" fill="#C0C0C0"/>
<rect x="834" y="558" width="3" height="1" fill="#C0C0C0"/>
<rect x="840" y="558" width="3" height="1" fill="#C0C0C0"/>
<rect x="846" y="558" width="3" height="1" fill="#C0C0C0"/>
<rect x="852" y="558" width="3" height="1" fill="#C0C0C0"/>
<rect x="858" y="558" width="3" height="1" fill="#C0C0C0"/>
<rect x="864" y="558" width="3" height="1" fill="#C0C0C0"/>
<rect x="870" y="558" width="3" height="1" fill="#C0C0C0"/>
<rect x="876" y="558" width="3" height="1" fill="#C0C0C0"/>
<rect x="882" y="558" width="3" height="1" fill="#C0C0C0"/>
<rect x="888" y="558" width="3" height="1" fill="#C0C0C0"/>
<rect x="894" y="558" width="3" height="1" fill="#C0C0C0"/>
<rect x="900" y="558" width="3" height="1" fill="#C0C0C0"/>
<rect x="906" y="558" width="3" height="1" fill="#C0C0C0"/>
<rect x="912" y="558" width="3" height="1" fill="#C0C0C0"/>
<rect x="918" y="558" width="3" height="1" fill="#C0C0C0"/>
<rect x="924" y="558" width="3" height="1" fill="#C0C0C0"/>
<rect x="930" y="558" width="3" height="1" fill="#C0C0C0"/>
<rect x="936" y="558" width="3" height="1" fill="#C0C0C0"/>
<rect x="942" y="558" width="3" height="1" fill="#C0C0C0"/>
<rect x="948" y="558" width="3" height="1" fill="#C0C0C0"/>
<rect x="954" y="558" width="3" height="1" fill="#C0C0C0"/>
<rect x="960" y="558" width="3" height="1" fill="#C0C0C0"/>
<rect x="966" y="558" width="3" height="1" fill="#C0C0C0"/>
<rect x="972" y="558" width="3" height="1" fill="#C0C0C0"/>
<rect x="978" y="558" width="3" height="1" fill="#C0C0C0"/>
<rect x="984" y="558" width="3" height="1" fill="#C0C0C0"/>
<rect x="990" y="558" width="3" height="1" fill="#C0C0C0"/>
<rect x="996" y="558" width="3" height="1" fill="#C0C0C0"/>
<rect x="1002" y="558" width="3" height="1" fill="#C0C0C0"/>
<rect x="1008" y="558" width="3" height="1" fill="#C0C0C0"/>
<rect x="1014" y="558" width="3" height="1" fill="#C0C0C0"/>
<rect x="1020" y="558" width="3" height="1" fill="#C0C0C0"/>
<rect x="1026" y="558" width="3" height="1" fill="#C0C0C0"/>
<rect x="1032" y="558" width="3" height="1" fill="#C0C0C0"/>
<rect x="1038" y="558" width="3" height="1" fill="#C0C0C0"/>
<rect x="1044" y="558" width="3" height="1" fill="#C0C0C0"/>
<rect x="1050" y="558" width="3" height="1" fill="#C0C0C0"/>
<rect x="1056" y="558" width="3" height="1" fill="#C0C0C0"/>
<rect x="1062" y="558" width="3" height="1" fill="#C0C0C0"/>
<rect x="1068" y="558" width="3" height="1" fill="#C0C0C0"/>
<rect x="1074" y="558" width="3" height="1" fill="#C0C0C0"/>
<rect x="1080" y="558" width="3" height="1" fill="#C0C0C0"/>
<rect x="1086" y="558" width="3" height="1" fill="#C0C0C0"/>
<rect x="1092" y="558" width="3" height="1" fill="#C0C0C0"/>
<rect x="1098" y="558" width="3" height="1" fill="#C0C0C0"/>
<rect x="1104" y="558" width="3" height="1" fill="#C0C0C0"/>
<rect x="1110" y="558" width="3" height="1" fill="#C0C0C0"/>
<rect x="1116" y="558" width="3" height="1" fill="#C0C0C0"/>
<rect x="1122" y="558" width="3" height="1" fill="#C0C0C0"/>
<rect x="1128" y="558" width="3" height="1" fill="#C0C0C0"/>
<rect x="1134" y="558" width="3" height="1" fill="#C0C0C0"/>
<rect x="1140" y="558" width="3" height="1" fill="#C0C0C0"/>
<rect x="1146" y="558" width="3" height="1" fill="#C0C0C0"/>
<rect x="1152" y="558" width="3" height="1" fill="#C0C0C0"/>
<rect x="1158" y="558" width="3" height="1" fill="#C0C0C0"/>
<rect x="1164" y="558" width="3" height="1" fill="#C0C0C0"/>
<rect x="1168" y="558" width="2" height="1" fill="#000"/>
<rect x="1168" y="500" width="1" height="1" fill="#000"/>
<rect x="1168" y="582" width="1" height="1" fill="#000"/>
<path transform="translate(0.5,0)" fill="none" stroke="#1E90FF" stroke-width="1" d="M109,559v2M110,557v2M111,555v2M112,553v2M113,550v3M114,548v2M115,546v2M116,544v2M117,542v2M257,543v2M295,534v2M299,529v2M334,536v2M337,540v2M340,544v2M441,542v2M671,537v2M675,542v2"/>
<path transform="translate(0,0.5)" fill="none" stroke="#1E90FF" stroke-width="1" d="M301,527h1M300,528h1M302,528h2M304,529h2M306,530h2M163,531h27M298,531h1M308,531h3M159,532h4M190,532h2M297,532h1M311,532h4M156,533h3M192,533h1M296,533h1M315,533h3M789,533h4M801,533h8M153,534h3M193,534h2M318,534h2M772,534h2M787,534h2M793,534h8M809,534h8M151,535h2M195,535h2M320,535h2M331,535h3M668,535h2M770,535h2M774,535h2M786,535h1M817,535h6M148,536h3M197,536h1M212,536h3M294,536h1M322,536h2M327,536h4M666,536h2M670,536h1M768,536h2M776,536h1M785,536h1M823,536h2M146,537h2M198,537h2M210,537h2M215,537h2M267,537h4M292,537h2M324,537h3M664,537h2M766,537h2M777,537h2M783,537h2M825,537h3M131,538h4M144,538h2M200,538h2M208,538h2M217,538h3M263,538h4M271,538h4M290,538h2M335,538h1M436,538h2M468,538h10M662,538h2M761,538h5M779,538h2M782,538h1M828,538h5M841,538h6M127,539h4M135,539h4M142,539h2M202,539h2M206,539h2M220,539h3M261,539h2M275,539h4M288,539h2M336,539h1M434,539h2M438,539h1M466,539h2M478,539h2M636,539h3M661,539h1M672,539h1M707,539h3M725,539h4M755,539h6M781,539h1M833,539h8M847,539h2M123,540h4M139,540h3M204,540h2M223,540h4M260,540h1M279,540h4M286,540h2M432,540h2M439,540h1M464,540h2M480,540h2M617,540h6M634,540h2M639,540h2M659,540h2M673,540h1M692,540h5M703,540h4M710,540h1M724,540h1M729,540h8M751,540h4M849,540h3M119,541h4M227,541h4M259,541h1M283,541h3M430,541h2M440,541h1M462,541h2M482,541h2M611,541h6M623,541h2M632,541h2M641,541h3M657,541h2M674,541h1M690,541h2M697,541h6M711,541h1M723,541h1M737,541h14M852,541h2M118,542h1M231,542h2M258,542h1M338,542h1M412,542h18M457,542h5M484,542h3M607,542h4M625,542h3M630,542h2M644,542h3M656,542h1M688,542h2M712,542h1M722,542h1M854,542h1M233,543h3M339,543h1M409,543h3M452,543h5M487,543h2M579,543h3M596,543h11M628,543h2M647,543h4M654,543h2M686,543h2M713,543h1M721,543h1M855,543h2M236,544h10M407,544h2M442,544h1M450,544h2M489,544h3M575,544h4M582,544h2M594,544h2M651,544h3M676,544h1M681,544h5M714,544h1M720,544h1M857,544h1M246,545h2M256,545h1M403,545h4M443,545h1M448,545h2M492,545h3M572,545h3M584,545h2M592,545h2M677,545h4M715,545h1M719,545h1M858,545h1M248,546h2M255,546h1M341,546h2M388,546h5M399,546h4M444,546h1M446,546h2M495,546h4M569,546h3M586,546h2M590,546h2M716,546h1M718,546h1M859,546h2M250,547h2M254,547h1M343,547h4M385,547h3M393,547h6M445,547h1M499,547h4M515,547h4M567,547h2M588,547h2M717,547h1M861,547h1M5,548h1M252,548h2M347,548h4M383,548h2M503,548h4M511,548h4M519,548h4M563,548h4M862,548h1M915,548h3M6,549h1M351,549h4M380,549h3M507,549h4M523,549h3M559,549h4M863,549h1M899,549h6M911,549h4M7,550h1M355,550h12M377,550h3M526,550h2M555,550h4M864,550h1M895,550h4M905,550h6M8,551h1M367,551h4M375,551h2M528,551h2M551,551h4M865,551h1M889,551h6M9,552h2M371,552h4M530,552h2M537,552h14M866,552h1M885,552h4M11,553h1M532,553h5M867,553h1M883,553h2M12,554h1M868,554h1M881,554h2M13,555h2M75,555h4M869,555h2M880,555h1M15,556h4M71,556h4M79,556h4M89,556h5M871,556h4M878,556h2M19,557h4M52,557h3M68,557h3M83,557h6M94,557h2M875,557h3M23,558h2M49,558h3M55,558h2M65,558h3M96,558h2M25,559h3M33,559h8M47,559h2M57,559h3M63,559h2M98,559h2M28,560h5M41,560h6M60,560h3M100,560h9"/>
<rect x="5" y="584" width="1" height="3" fill="#000"/>
<rect x="69" y="584" width="1" height="3" fill="#000"/>
<rect x="133" y="584" width="1" height="3" fill="#000"/>
<rect x="197" y="584" width="1" height="3" fill="#000"/>
<rect x="261" y="584" width="1" height="3" fill="#000"/>
<rect x="325" y="584" width="1" height="3" fill="#000"/>
<rect x="389" y="584" width="1" height="3" fill="#000"/>
<rect x="453" y="584" width="1" height="3" fill="#000"/>
<rect x="517" y="584" width="1" height="3" fill="#000"/>
<rect x="581" y="584" width="1" height="3" fill="#000"/>
<rect x="645" y="584" width="1" height="3" fill="#000"/>
<rect x="709" y="584" width="1" height="3" fill="#000"/>
<rect x="773" y="584" width="1" height="3" fill="#000"/>
<rect x="837" y="584" width="1" height="3" fill="#000"/>
<rect x="901" y="584" width="1" height="3" fill="#000"/>
<path d="M11,37h1v1h1v1h1v1h1v1h-7v-1h1v-1h1v-1h1z" fill="#000"/>
</g>
<text x="20.6" y="42" font-size="10" fill="#000" stroke="#000" stroke-width="0.2" textLength="66.5" lengthAdjust="spacingAndGlyphs">AUDUSD,Daily</text>
<text x="92.4" y="42" font-size="10" fill="#000" stroke="#000" stroke-width="0.2" textLength="141.5" lengthAdjust="spacingAndGlyphs">0.70390 0.70579 0.70352 0.70517</text>
<text x="1172.5" y="65" font-size="10" fill="#000" stroke="#000" stroke-width="0.2" textLength="34" lengthAdjust="spacingAndGlyphs">0.72810</text>
<text x="1172.5" y="98" font-size="10" fill="#000" stroke="#000" stroke-width="0.2" textLength="34" lengthAdjust="spacingAndGlyphs">0.72390</text>
<text x="1172.5" y="131" font-size="10" fill="#000" stroke="#000" stroke-width="0.2" textLength="34" lengthAdjust="spacingAndGlyphs">0.71970</text>
<text x="1172.5" y="164" font-size="10" fill="#000" stroke="#000" stroke-width="0.2" textLength="34" lengthAdjust="spacingAndGlyphs">0.71560</text>
<text x="1172.5" y="197" font-size="10" fill="#000" stroke="#000" stroke-width="0.2" textLength="34" lengthAdjust="spacingAndGlyphs">0.71140</text>
<text x="1172.5" y="230" font-size="10" fill="#000" stroke="#000" stroke-width="0.2" textLength="34" lengthAdjust="spacingAndGlyphs">0.70720</text>
<text x="1172.5" y="263" font-size="10" fill="#000" stroke="#000" stroke-width="0.2" textLength="34" lengthAdjust="spacingAndGlyphs">0.70300</text>
<text x="1172.5" y="296" font-size="10" fill="#000" stroke="#000" stroke-width="0.2" textLength="34" lengthAdjust="spacingAndGlyphs">0.69890</text>
<text x="1172.5" y="329" font-size="10" fill="#000" stroke="#000" stroke-width="0.2" textLength="34" lengthAdjust="spacingAndGlyphs">0.69470</text>
<text x="1172.5" y="362" font-size="10" fill="#000" stroke="#000" stroke-width="0.2" textLength="34" lengthAdjust="spacingAndGlyphs">0.69050</text>
<text x="1172.5" y="395" font-size="10" fill="#000" stroke="#000" stroke-width="0.2" textLength="34" lengthAdjust="spacingAndGlyphs">0.68640</text>
<text x="1172.5" y="428" font-size="10" fill="#000" stroke="#000" stroke-width="0.2" textLength="34" lengthAdjust="spacingAndGlyphs">0.68220</text>
<text x="1172.5" y="246" font-size="10" fill="#fff" stroke="#fff" stroke-width="0.2" textLength="34" lengthAdjust="spacingAndGlyphs">0.70517</text>
<text x="9" y="442" font-size="10" fill="#000" stroke="#000" stroke-width="0.2" textLength="154" lengthAdjust="spacingAndGlyphs">MACD(12,26,9) -0.002093 -0.000907</text>
<text x="1171" y="440" font-size="10" fill="#000" stroke="#000" stroke-width="0.2" textLength="39.5" lengthAdjust="spacingAndGlyphs">0.002957</text>
<text x="1171" y="457" font-size="10" fill="#000" stroke="#000" stroke-width="0.2" textLength="18.5" lengthAdjust="spacingAndGlyphs">0.00</text>
<text x="1171" y="495" font-size="10" fill="#000" stroke="#000" stroke-width="0.2" textLength="43" lengthAdjust="spacingAndGlyphs">-0.005825</text>
<text x="9" y="511" font-size="10" fill="#000" stroke="#000" stroke-width="0.2" textLength="69" lengthAdjust="spacingAndGlyphs">RSI(14) 42.1101</text>
<text x="1171.5" y="510.5" font-size="10" fill="#000" stroke="#000" stroke-width="0.2" textLength="15" lengthAdjust="spacingAndGlyphs">100</text>
<text x="1170" y="529" font-size="10" fill="#000" stroke="#000" stroke-width="0.2" textLength="10" lengthAdjust="spacingAndGlyphs">70</text>
<text x="1170" y="562" font-size="10" fill="#000" stroke="#000" stroke-width="0.2" textLength="10" lengthAdjust="spacingAndGlyphs">30</text>
<text x="1171.5" y="580" font-size="10" fill="#000" stroke="#000" stroke-width="0.2" textLength="5" lengthAdjust="spacingAndGlyphs">0</text>
<text x="4.7" y="595.5" font-size="10" fill="#000" stroke="#000" stroke-width="0.2" textLength="51.9" lengthAdjust="spacingAndGlyphs">19 Dec 2018</text>
<text x="68.7" y="595.5" font-size="10" fill="#000" stroke="#000" stroke-width="0.2" textLength="51.9" lengthAdjust="spacingAndGlyphs">28 Dec 2018</text>
<text x="132.7" y="595.5" font-size="10" fill="#000" stroke="#000" stroke-width="0.2" textLength="45.3" lengthAdjust="spacingAndGlyphs">7 Jan 2019</text>
<text x="196.7" y="595.5" font-size="10" fill="#000" stroke="#000" stroke-width="0.2" textLength="50.4" lengthAdjust="spacingAndGlyphs">16 Jan 2019</text>
<text x="260.7" y="595.5" font-size="10" fill="#000" stroke="#000" stroke-width="0.2" textLength="50.4" lengthAdjust="spacingAndGlyphs">25 Jan 2019</text>
<text x="324.7" y="595.5" font-size="10" fill="#000" stroke="#000" stroke-width="0.2" textLength="46.3" lengthAdjust="spacingAndGlyphs">4 Feb 2019</text>
<text x="388.7" y="595.5" font-size="10" fill="#000" stroke="#000" stroke-width="0.2" textLength="51.4" lengthAdjust="spacingAndGlyphs">13 Feb 2019</text>
<text x="452.7" y="595.5" font-size="10" fill="#000" stroke="#000" stroke-width="0.2" textLength="51.4" lengthAdjust="spacingAndGlyphs">22 Feb 2019</text>
<text x="516.7" y="595.5" font-size="10" fill="#000" stroke="#000" stroke-width="0.2" textLength="46.3" lengthAdjust="spacingAndGlyphs">4 Mar 2019</text>
<text x="580.7" y="595.5" font-size="10" fill="#000" stroke="#000" stroke-width="0.2" textLength="51.4" lengthAdjust="spacingAndGlyphs">13 Mar 2019</text>
<text x="644.7" y="595.5" font-size="10" fill="#000" stroke="#000" stroke-width="0.2" textLength="51.4" lengthAdjust="spacingAndGlyphs">22 Mar 2019</text>
<text x="708.7" y="595.5" font-size="10" fill="#000" stroke="#000" stroke-width="0.2" textLength="44.3" lengthAdjust="spacingAndGlyphs">1 Apr 2019</text>
<text x="772.7" y="595.5" font-size="10" fill="#000" stroke="#000" stroke-width="0.2" textLength="49.3" lengthAdjust="spacingAndGlyphs">10 Apr 2019</text>
<text x="836.7" y="595.5" font-size="10" fill="#000" stroke="#000" stroke-width="0.2" textLength="49.3" lengthAdjust="spacingAndGlyphs">19 Apr 2019</text>
<text x="900.7" y="595.5" font-size="10" fill="#000" stroke="#000" stroke-width="0.2" textLength="49.3" lengthAdjust="spacingAndGlyphs">29 Apr 2019</text>
</svg>
<div id="oc" class="abs">
<svg width="219" height="66" viewBox="0 0 219 66">
<defs><linearGradient id="g" gradientUnits="userSpaceOnUse" x1="0" y1="0" x2="0" y2="64"><stop offset="0" stop-color="#5252F8"/><stop offset="0.4" stop-color="#3535E2"/><stop offset="0.8" stop-color="#0C0CBE"/><stop offset="1" stop-color="#0000A6"/></linearGradient>
<linearGradient id="gb" x1="0" y1="0" x2="0" y2="1"><stop offset="0" stop-color="#f3f3f3"/><stop offset="0.5" stop-color="#e8e8e8"/><stop offset="0.5" stop-color="#dcdcdc"/><stop offset="1" stop-color="#d2d2d2"/></linearGradient></defs>
<g shape-rendering="crispEdges">
<rect x="0" y="0" width="219" height="66" fill="#fff"/>
<path d="M0,0H52V24H109V64H0Z" fill="url(#g)"/>
<path d="M167,0H219V64H111V24H167Z" fill="url(#g)"/>
<rect x="4" y="24" width="44" height="1" fill="#7d7df4"/>
<rect x="171" y="24" width="44" height="1" fill="#7d7df4"/>
<rect x="54.5" y="0.5" width="110" height="21" fill="#fff" stroke="#b4b8c4"/>
<rect x="56" y="2" width="19" height="19" fill="url(#gb)"/>
<rect x="145" y="2" width="19" height="19" fill="url(#gb)"/>
<rect x="75" y="2" width="1" height="19" fill="#c8c8c8"/><rect x="144" y="2" width="1" height="19" fill="#c8c8c8"/>
</g>
<polygon points="62,9 67,9 64.5,12" fill="#6573b6"/>
<polygon points="151,12 156,12 153.5,9" fill="#6573b6"/>
<text x="12.5" y="15.9" font-size="12.5" fill="#fff" textLength="26" lengthAdjust="spacingAndGlyphs">SELL</text>
<text x="181" y="15.9" font-size="12.5" fill="#fff" textLength="23" lengthAdjust="spacingAndGlyphs">BUY</text>
<text x="116" y="14.8" font-size="12.3" fill="#000" textLength="24" lengthAdjust="spacingAndGlyphs">5.00</text>
<text x="19.5" y="55" font-size="12.5" font-weight="bold" fill="#fff" textLength="25.5" lengthAdjust="spacingAndGlyphs">0.70</text>
<text x="47" y="55.3" font-size="36" fill="#fff" stroke="url(#g)" stroke-width="0.5" textLength="36.6" lengthAdjust="spacingAndGlyphs">51</text>
<text x="86.5" y="39.3" font-size="13.2" font-weight="bold" fill="#fff" textLength="8.2" lengthAdjust="spacingAndGlyphs">7</text>
<text x="130" y="55" font-size="12.5" font-weight="bold" fill="#fff" textLength="25.5" lengthAdjust="spacingAndGlyphs">0.70</text>
<text x="158.7" y="55.3" font-size="36" fill="#fff" stroke="url(#g)" stroke-width="0.5" textLength="36.3" lengthAdjust="spacingAndGlyphs">53</text>
<text x="198" y="39.3" font-size="13.2" font-weight="bold" fill="#fff" textLength="7.4" lengthAdjust="spacingAndGlyphs">5</text>
</svg></div>
</body></html>
